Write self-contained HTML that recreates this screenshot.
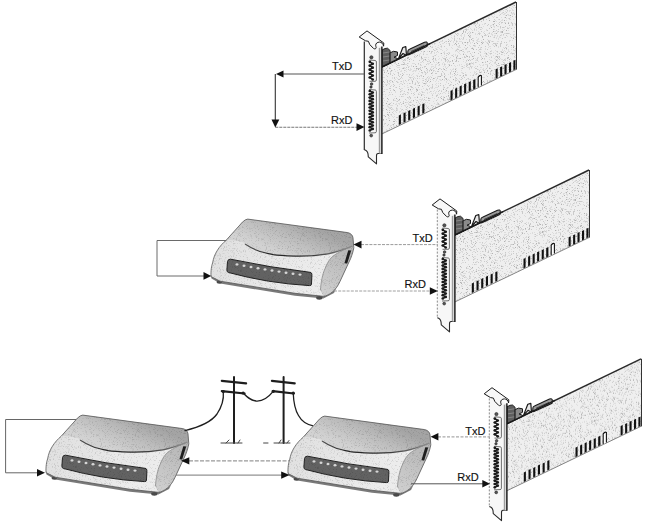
<!DOCTYPE html>
<html><head><meta charset="utf-8">
<style>
html,body{margin:0;padding:0;background:#fff;}
body{width:646px;height:527px;overflow:hidden;}
svg{display:block;}
text{font-family:"Liberation Sans",sans-serif;font-size:11px;fill:#111;stroke:#111;stroke-width:0.15px;}
</style></head>
<body>
<svg width="646" height="527" viewBox="0 0 646 527">
<defs>
<pattern id="st1" width="100" height="100" patternUnits="userSpaceOnUse"><rect width="100" height="100" fill="#efefef"/><path d="M6 0h1v1h-1zM11 0h1v1h-1zM16 0h1v1h-1zM21 0h1v1h-1zM23 0h1v1h-1zM25 0h1v1h-1zM26 0h1v1h-1zM44 0h1v1h-1zM45 0h1v1h-1zM48 0h1v1h-1zM57 0h1v1h-1zM59 0h1v1h-1zM62 0h1v1h-1zM66 0h1v1h-1zM67 0h1v1h-1zM78 0h1v1h-1zM82 0h1v1h-1zM84 0h1v1h-1zM94 0h1v1h-1zM95 0h1v1h-1zM99 0h1v1h-1zM8 1h1v1h-1zM10 1h1v1h-1zM13 1h1v1h-1zM18 1h1v1h-1zM20 1h1v1h-1zM33 1h1v1h-1zM40 1h1v1h-1zM60 1h1v1h-1zM96 1h1v1h-1zM3 2h1v1h-1zM6 2h1v1h-1zM7 2h1v1h-1zM11 2h1v1h-1zM18 2h1v1h-1zM22 2h1v1h-1zM25 2h1v1h-1zM27 2h1v1h-1zM37 2h1v1h-1zM45 2h1v1h-1zM46 2h1v1h-1zM49 2h1v1h-1zM70 2h1v1h-1zM76 2h1v1h-1zM83 2h1v1h-1zM91 2h1v1h-1zM2 3h1v1h-1zM8 3h1v1h-1zM22 3h1v1h-1zM29 3h1v1h-1zM34 3h1v1h-1zM37 3h1v1h-1zM42 3h1v1h-1zM47 3h1v1h-1zM53 3h1v1h-1zM56 3h1v1h-1zM61 3h1v1h-1zM62 3h1v1h-1zM64 3h1v1h-1zM65 3h1v1h-1zM69 3h1v1h-1zM76 3h1v1h-1zM78 3h1v1h-1zM89 3h1v1h-1zM96 3h1v1h-1zM98 3h1v1h-1zM99 3h1v1h-1zM6 4h1v1h-1zM8 4h1v1h-1zM9 4h1v1h-1zM13 4h1v1h-1zM17 4h1v1h-1zM25 4h1v1h-1zM36 4h1v1h-1zM37 4h1v1h-1zM39 4h1v1h-1zM43 4h1v1h-1zM49 4h1v1h-1zM50 4h1v1h-1zM51 4h1v1h-1zM55 4h1v1h-1zM62 4h1v1h-1zM70 4h1v1h-1zM77 4h1v1h-1zM79 4h1v1h-1zM95 4h1v1h-1zM96 4h1v1h-1zM99 4h1v1h-1zM4 5h1v1h-1zM5 5h1v1h-1zM9 5h1v1h-1zM11 5h1v1h-1zM13 5h1v1h-1zM17 5h1v1h-1zM18 5h1v1h-1zM24 5h1v1h-1zM26 5h1v1h-1zM32 5h1v1h-1zM44 5h1v1h-1zM46 5h1v1h-1zM50 5h1v1h-1zM51 5h1v1h-1zM53 5h1v1h-1zM57 5h1v1h-1zM59 5h1v1h-1zM63 5h1v1h-1zM81 5h1v1h-1zM82 5h1v1h-1zM87 5h1v1h-1zM90 5h1v1h-1zM91 5h1v1h-1zM92 5h1v1h-1zM1 6h1v1h-1zM5 6h1v1h-1zM12 6h1v1h-1zM23 6h1v1h-1zM26 6h1v1h-1zM28 6h1v1h-1zM47 6h1v1h-1zM50 6h1v1h-1zM52 6h1v1h-1zM63 6h1v1h-1zM69 6h1v1h-1zM87 6h1v1h-1zM88 6h1v1h-1zM97 6h1v1h-1zM13 7h1v1h-1zM21 7h1v1h-1zM36 7h1v1h-1zM50 7h1v1h-1zM51 7h1v1h-1zM60 7h1v1h-1zM72 7h1v1h-1zM74 7h1v1h-1zM75 7h1v1h-1zM76 7h1v1h-1zM78 7h1v1h-1zM88 7h1v1h-1zM89 7h1v1h-1zM90 7h1v1h-1zM96 7h1v1h-1zM0 8h1v1h-1zM7 8h1v1h-1zM11 8h1v1h-1zM26 8h1v1h-1zM30 8h1v1h-1zM32 8h1v1h-1zM38 8h1v1h-1zM41 8h1v1h-1zM44 8h1v1h-1zM49 8h1v1h-1zM54 8h1v1h-1zM59 8h1v1h-1zM67 8h1v1h-1zM68 8h1v1h-1zM78 8h1v1h-1zM89 8h1v1h-1zM92 8h1v1h-1zM97 8h1v1h-1zM1 9h1v1h-1zM5 9h1v1h-1zM12 9h1v1h-1zM16 9h1v1h-1zM17 9h1v1h-1zM29 9h1v1h-1zM32 9h1v1h-1zM38 9h1v1h-1zM40 9h1v1h-1zM43 9h1v1h-1zM57 9h1v1h-1zM66 9h1v1h-1zM72 9h1v1h-1zM73 9h1v1h-1zM75 9h1v1h-1zM92 9h1v1h-1zM93 9h1v1h-1zM96 9h1v1h-1zM97 9h1v1h-1zM1 10h1v1h-1zM3 10h1v1h-1zM9 10h1v1h-1zM10 10h1v1h-1zM12 10h1v1h-1zM13 10h1v1h-1zM18 10h1v1h-1zM21 10h1v1h-1zM25 10h1v1h-1zM30 10h1v1h-1zM35 10h1v1h-1zM37 10h1v1h-1zM42 10h1v1h-1zM48 10h1v1h-1zM59 10h1v1h-1zM67 10h1v1h-1zM70 10h1v1h-1zM74 10h1v1h-1zM82 10h1v1h-1zM83 10h1v1h-1zM87 10h1v1h-1zM94 10h1v1h-1zM97 10h1v1h-1zM0 11h1v1h-1zM5 11h1v1h-1zM7 11h1v1h-1zM9 11h1v1h-1zM26 11h1v1h-1zM27 11h1v1h-1zM40 11h1v1h-1zM44 11h1v1h-1zM46 11h1v1h-1zM48 11h1v1h-1zM54 11h1v1h-1zM58 11h1v1h-1zM60 11h1v1h-1zM71 11h1v1h-1zM75 11h1v1h-1zM79 11h1v1h-1zM93 11h1v1h-1zM95 11h1v1h-1zM99 11h1v1h-1zM2 12h1v1h-1zM13 12h1v1h-1zM26 12h1v1h-1zM29 12h1v1h-1zM30 12h1v1h-1zM31 12h1v1h-1zM33 12h1v1h-1zM39 12h1v1h-1zM48 12h1v1h-1zM52 12h1v1h-1zM54 12h1v1h-1zM56 12h1v1h-1zM58 12h1v1h-1zM71 12h1v1h-1zM96 12h1v1h-1zM99 12h1v1h-1zM1 13h1v1h-1zM2 13h1v1h-1zM4 13h1v1h-1zM5 13h1v1h-1zM11 13h1v1h-1zM12 13h1v1h-1zM13 13h1v1h-1zM14 13h1v1h-1zM30 13h1v1h-1zM35 13h1v1h-1zM43 13h1v1h-1zM45 13h1v1h-1zM49 13h1v1h-1zM53 13h1v1h-1zM56 13h1v1h-1zM60 13h1v1h-1zM64 13h1v1h-1zM67 13h1v1h-1zM72 13h1v1h-1zM78 13h1v1h-1zM93 13h1v1h-1zM3 14h1v1h-1zM4 14h1v1h-1zM7 14h1v1h-1zM8 14h1v1h-1zM12 14h1v1h-1zM26 14h1v1h-1zM35 14h1v1h-1zM50 14h1v1h-1zM64 14h1v1h-1zM68 14h1v1h-1zM74 14h1v1h-1zM75 14h1v1h-1zM80 14h1v1h-1zM81 14h1v1h-1zM90 14h1v1h-1zM94 14h1v1h-1zM5 15h1v1h-1zM8 15h1v1h-1zM9 15h1v1h-1zM24 15h1v1h-1zM25 15h1v1h-1zM28 15h1v1h-1zM38 15h1v1h-1zM46 15h1v1h-1zM50 15h1v1h-1zM65 15h1v1h-1zM69 15h1v1h-1zM71 15h1v1h-1zM74 15h1v1h-1zM79 15h1v1h-1zM83 15h1v1h-1zM91 15h1v1h-1zM99 15h1v1h-1zM15 16h1v1h-1zM30 16h1v1h-1zM36 16h1v1h-1zM43 16h1v1h-1zM60 16h1v1h-1zM64 16h1v1h-1zM78 16h1v1h-1zM79 16h1v1h-1zM80 16h1v1h-1zM89 16h1v1h-1zM92 16h1v1h-1zM94 16h1v1h-1zM1 17h1v1h-1zM4 17h1v1h-1zM10 17h1v1h-1zM15 17h1v1h-1zM19 17h1v1h-1zM30 17h1v1h-1zM39 17h1v1h-1zM40 17h1v1h-1zM41 17h1v1h-1zM43 17h1v1h-1zM52 17h1v1h-1zM53 17h1v1h-1zM58 17h1v1h-1zM62 17h1v1h-1zM68 17h1v1h-1zM76 17h1v1h-1zM88 17h1v1h-1zM93 17h1v1h-1zM6 18h1v1h-1zM8 18h1v1h-1zM18 18h1v1h-1zM19 18h1v1h-1zM30 18h1v1h-1zM52 18h1v1h-1zM53 18h1v1h-1zM57 18h1v1h-1zM58 18h1v1h-1zM74 18h1v1h-1zM88 18h1v1h-1zM89 18h1v1h-1zM2 19h1v1h-1zM9 19h1v1h-1zM10 19h1v1h-1zM13 19h1v1h-1zM18 19h1v1h-1zM24 19h1v1h-1zM46 19h1v1h-1zM59 19h1v1h-1zM73 19h1v1h-1zM75 19h1v1h-1zM77 19h1v1h-1zM98 19h1v1h-1zM1 20h1v1h-1zM2 20h1v1h-1zM6 20h1v1h-1zM17 20h1v1h-1zM18 20h1v1h-1zM21 20h1v1h-1zM27 20h1v1h-1zM51 20h1v1h-1zM55 20h1v1h-1zM72 20h1v1h-1zM73 20h1v1h-1zM75 20h1v1h-1zM95 20h1v1h-1zM0 21h1v1h-1zM21 21h1v1h-1zM22 21h1v1h-1zM27 21h1v1h-1zM29 21h1v1h-1zM30 21h1v1h-1zM35 21h1v1h-1zM49 21h1v1h-1zM65 21h1v1h-1zM96 21h1v1h-1zM4 22h1v1h-1zM5 22h1v1h-1zM18 22h1v1h-1zM21 22h1v1h-1zM22 22h1v1h-1zM26 22h1v1h-1zM35 22h1v1h-1zM36 22h1v1h-1zM40 22h1v1h-1zM41 22h1v1h-1zM57 22h1v1h-1zM63 22h1v1h-1zM1 23h1v1h-1zM11 23h1v1h-1zM14 23h1v1h-1zM15 23h1v1h-1zM31 23h1v1h-1zM34 23h1v1h-1zM40 23h1v1h-1zM41 23h1v1h-1zM49 23h1v1h-1zM52 23h1v1h-1zM58 23h1v1h-1zM61 23h1v1h-1zM70 23h1v1h-1zM84 23h1v1h-1zM98 23h1v1h-1zM21 24h1v1h-1zM33 24h1v1h-1zM36 24h1v1h-1zM37 24h1v1h-1zM48 24h1v1h-1zM57 24h1v1h-1zM63 24h1v1h-1zM68 24h1v1h-1zM73 24h1v1h-1zM74 24h1v1h-1zM76 24h1v1h-1zM79 24h1v1h-1zM82 24h1v1h-1zM84 24h1v1h-1zM92 24h1v1h-1zM15 25h1v1h-1zM34 25h1v1h-1zM35 25h1v1h-1zM43 25h1v1h-1zM44 25h1v1h-1zM48 25h1v1h-1zM54 25h1v1h-1zM63 25h1v1h-1zM65 25h1v1h-1zM90 25h1v1h-1zM91 25h1v1h-1zM93 25h1v1h-1zM28 26h1v1h-1zM32 26h1v1h-1zM33 26h1v1h-1zM34 26h1v1h-1zM39 26h1v1h-1zM43 26h1v1h-1zM49 26h1v1h-1zM50 26h1v1h-1zM58 26h1v1h-1zM64 26h1v1h-1zM75 26h1v1h-1zM78 26h1v1h-1zM83 26h1v1h-1zM90 26h1v1h-1zM93 26h1v1h-1zM94 26h1v1h-1zM97 26h1v1h-1zM98 26h1v1h-1zM4 27h1v1h-1zM7 27h1v1h-1zM9 27h1v1h-1zM14 27h1v1h-1zM16 27h1v1h-1zM26 27h1v1h-1zM38 27h1v1h-1zM42 27h1v1h-1zM53 27h1v1h-1zM80 27h1v1h-1zM94 27h1v1h-1zM0 28h1v1h-1zM19 28h1v1h-1zM21 28h1v1h-1zM22 28h1v1h-1zM23 28h1v1h-1zM25 28h1v1h-1zM26 28h1v1h-1zM31 28h1v1h-1zM32 28h1v1h-1zM33 28h1v1h-1zM37 28h1v1h-1zM47 28h1v1h-1zM66 28h1v1h-1zM70 28h1v1h-1zM74 28h1v1h-1zM78 28h1v1h-1zM82 28h1v1h-1zM2 29h1v1h-1zM4 29h1v1h-1zM23 29h1v1h-1zM24 29h1v1h-1zM30 29h1v1h-1zM35 29h1v1h-1zM37 29h1v1h-1zM51 29h1v1h-1zM52 29h1v1h-1zM54 29h1v1h-1zM64 29h1v1h-1zM67 29h1v1h-1zM68 29h1v1h-1zM71 29h1v1h-1zM76 29h1v1h-1zM81 29h1v1h-1zM86 29h1v1h-1zM94 29h1v1h-1zM3 30h1v1h-1zM8 30h1v1h-1zM19 30h1v1h-1zM21 30h1v1h-1zM27 30h1v1h-1zM38 30h1v1h-1zM45 30h1v1h-1zM52 30h1v1h-1zM53 30h1v1h-1zM56 30h1v1h-1zM60 30h1v1h-1zM72 30h1v1h-1zM74 30h1v1h-1zM76 30h1v1h-1zM86 30h1v1h-1zM0 31h1v1h-1zM13 31h1v1h-1zM14 31h1v1h-1zM21 31h1v1h-1zM24 31h1v1h-1zM36 31h1v1h-1zM39 31h1v1h-1zM41 31h1v1h-1zM45 31h1v1h-1zM53 31h1v1h-1zM55 31h1v1h-1zM56 31h1v1h-1zM57 31h1v1h-1zM69 31h1v1h-1zM78 31h1v1h-1zM84 31h1v1h-1zM94 31h1v1h-1zM95 31h1v1h-1zM97 31h1v1h-1zM0 32h1v1h-1zM24 32h1v1h-1zM53 32h1v1h-1zM54 32h1v1h-1zM68 32h1v1h-1zM73 32h1v1h-1zM79 32h1v1h-1zM83 32h1v1h-1zM89 32h1v1h-1zM92 32h1v1h-1zM97 32h1v1h-1zM4 33h1v1h-1zM5 33h1v1h-1zM9 33h1v1h-1zM18 33h1v1h-1zM19 33h1v1h-1zM20 33h1v1h-1zM22 33h1v1h-1zM34 33h1v1h-1zM35 33h1v1h-1zM36 33h1v1h-1zM40 33h1v1h-1zM58 33h1v1h-1zM69 33h1v1h-1zM70 33h1v1h-1zM75 33h1v1h-1zM80 33h1v1h-1zM88 33h1v1h-1zM91 33h1v1h-1zM94 33h1v1h-1zM95 33h1v1h-1zM1 34h1v1h-1zM10 34h1v1h-1zM13 34h1v1h-1zM14 34h1v1h-1zM26 34h1v1h-1zM39 34h1v1h-1zM48 34h1v1h-1zM49 34h1v1h-1zM58 34h1v1h-1zM61 34h1v1h-1zM64 34h1v1h-1zM69 34h1v1h-1zM75 34h1v1h-1zM77 34h1v1h-1zM87 34h1v1h-1zM91 34h1v1h-1zM92 34h1v1h-1zM1 35h1v1h-1zM3 35h1v1h-1zM13 35h1v1h-1zM20 35h1v1h-1zM30 35h1v1h-1zM35 35h1v1h-1zM48 35h1v1h-1zM51 35h1v1h-1zM54 35h1v1h-1zM60 35h1v1h-1zM61 35h1v1h-1zM64 35h1v1h-1zM81 35h1v1h-1zM86 35h1v1h-1zM88 35h1v1h-1zM92 35h1v1h-1zM94 35h1v1h-1zM95 35h1v1h-1zM97 35h1v1h-1zM7 36h1v1h-1zM10 36h1v1h-1zM14 36h1v1h-1zM15 36h1v1h-1zM25 36h1v1h-1zM26 36h1v1h-1zM33 36h1v1h-1zM34 36h1v1h-1zM39 36h1v1h-1zM42 36h1v1h-1zM61 36h1v1h-1zM64 36h1v1h-1zM70 36h1v1h-1zM94 36h1v1h-1zM97 36h1v1h-1zM99 36h1v1h-1zM0 37h1v1h-1zM4 37h1v1h-1zM13 37h1v1h-1zM21 37h1v1h-1zM31 37h1v1h-1zM35 37h1v1h-1zM45 37h1v1h-1zM51 37h1v1h-1zM54 37h1v1h-1zM69 37h1v1h-1zM76 37h1v1h-1zM93 37h1v1h-1zM96 37h1v1h-1zM99 37h1v1h-1zM17 38h1v1h-1zM19 38h1v1h-1zM20 38h1v1h-1zM38 38h1v1h-1zM41 38h1v1h-1zM44 38h1v1h-1zM52 38h1v1h-1zM57 38h1v1h-1zM61 38h1v1h-1zM73 38h1v1h-1zM78 38h1v1h-1zM96 38h1v1h-1zM98 38h1v1h-1zM15 39h1v1h-1zM17 39h1v1h-1zM19 39h1v1h-1zM22 39h1v1h-1zM25 39h1v1h-1zM59 39h1v1h-1zM60 39h1v1h-1zM62 39h1v1h-1zM63 39h1v1h-1zM66 39h1v1h-1zM77 39h1v1h-1zM78 39h1v1h-1zM87 39h1v1h-1zM98 39h1v1h-1zM9 40h1v1h-1zM10 40h1v1h-1zM12 40h1v1h-1zM20 40h1v1h-1zM25 40h1v1h-1zM35 40h1v1h-1zM37 40h1v1h-1zM49 40h1v1h-1zM51 40h1v1h-1zM56 40h1v1h-1zM72 40h1v1h-1zM76 40h1v1h-1zM77 40h1v1h-1zM81 40h1v1h-1zM89 40h1v1h-1zM90 40h1v1h-1zM9 41h1v1h-1zM18 41h1v1h-1zM24 41h1v1h-1zM28 41h1v1h-1zM32 41h1v1h-1zM37 41h1v1h-1zM40 41h1v1h-1zM41 41h1v1h-1zM42 41h1v1h-1zM45 41h1v1h-1zM53 41h1v1h-1zM57 41h1v1h-1zM59 41h1v1h-1zM60 41h1v1h-1zM61 41h1v1h-1zM73 41h1v1h-1zM77 41h1v1h-1zM78 41h1v1h-1zM79 41h1v1h-1zM82 41h1v1h-1zM85 41h1v1h-1zM91 41h1v1h-1zM93 41h1v1h-1zM97 41h1v1h-1zM98 41h1v1h-1zM1 42h1v1h-1zM28 42h1v1h-1zM53 42h1v1h-1zM56 42h1v1h-1zM68 42h1v1h-1zM70 42h1v1h-1zM72 42h1v1h-1zM82 42h1v1h-1zM86 42h1v1h-1zM87 42h1v1h-1zM20 43h1v1h-1zM25 43h1v1h-1zM35 43h1v1h-1zM42 43h1v1h-1zM43 43h1v1h-1zM46 43h1v1h-1zM48 43h1v1h-1zM67 43h1v1h-1zM70 43h1v1h-1zM88 43h1v1h-1zM96 43h1v1h-1zM6 44h1v1h-1zM7 44h1v1h-1zM25 44h1v1h-1zM32 44h1v1h-1zM34 44h1v1h-1zM63 44h1v1h-1zM67 44h1v1h-1zM81 44h1v1h-1zM92 44h1v1h-1zM96 44h1v1h-1zM19 45h1v1h-1zM23 45h1v1h-1zM38 45h1v1h-1zM41 45h1v1h-1zM52 45h1v1h-1zM56 45h1v1h-1zM69 45h1v1h-1zM75 45h1v1h-1zM88 45h1v1h-1zM93 45h1v1h-1zM95 45h1v1h-1zM8 46h1v1h-1zM14 46h1v1h-1zM22 46h1v1h-1zM32 46h1v1h-1zM35 46h1v1h-1zM40 46h1v1h-1zM57 46h1v1h-1zM58 46h1v1h-1zM59 46h1v1h-1zM70 46h1v1h-1zM74 46h1v1h-1zM75 46h1v1h-1zM89 46h1v1h-1zM90 46h1v1h-1zM96 46h1v1h-1zM98 46h1v1h-1zM3 47h1v1h-1zM6 47h1v1h-1zM11 47h1v1h-1zM20 47h1v1h-1zM28 47h1v1h-1zM31 47h1v1h-1zM37 47h1v1h-1zM38 47h1v1h-1zM41 47h1v1h-1zM51 47h1v1h-1zM58 47h1v1h-1zM59 47h1v1h-1zM60 47h1v1h-1zM64 47h1v1h-1zM72 47h1v1h-1zM80 47h1v1h-1zM88 47h1v1h-1zM98 47h1v1h-1zM16 48h1v1h-1zM20 48h1v1h-1zM22 48h1v1h-1zM29 48h1v1h-1zM35 48h1v1h-1zM36 48h1v1h-1zM39 48h1v1h-1zM46 48h1v1h-1zM52 48h1v1h-1zM57 48h1v1h-1zM65 48h1v1h-1zM73 48h1v1h-1zM80 48h1v1h-1zM85 48h1v1h-1zM90 48h1v1h-1zM2 49h1v1h-1zM6 49h1v1h-1zM8 49h1v1h-1zM11 49h1v1h-1zM13 49h1v1h-1zM15 49h1v1h-1zM17 49h1v1h-1zM18 49h1v1h-1zM22 49h1v1h-1zM37 49h1v1h-1zM40 49h1v1h-1zM41 49h1v1h-1zM47 49h1v1h-1zM56 49h1v1h-1zM62 49h1v1h-1zM63 49h1v1h-1zM65 49h1v1h-1zM66 49h1v1h-1zM81 49h1v1h-1zM85 49h1v1h-1zM2 50h1v1h-1zM4 50h1v1h-1zM8 50h1v1h-1zM13 50h1v1h-1zM15 50h1v1h-1zM35 50h1v1h-1zM42 50h1v1h-1zM46 50h1v1h-1zM55 50h1v1h-1zM59 50h1v1h-1zM78 50h1v1h-1zM91 50h1v1h-1zM95 50h1v1h-1zM0 51h1v1h-1zM3 51h1v1h-1zM5 51h1v1h-1zM8 51h1v1h-1zM9 51h1v1h-1zM15 51h1v1h-1zM16 51h1v1h-1zM23 51h1v1h-1zM27 51h1v1h-1zM44 51h1v1h-1zM55 51h1v1h-1zM57 51h1v1h-1zM59 51h1v1h-1zM62 51h1v1h-1zM67 51h1v1h-1zM68 51h1v1h-1zM79 51h1v1h-1zM80 51h1v1h-1zM84 51h1v1h-1zM91 51h1v1h-1zM96 51h1v1h-1zM3 52h1v1h-1zM11 52h1v1h-1zM15 52h1v1h-1zM23 52h1v1h-1zM34 52h1v1h-1zM36 52h1v1h-1zM38 52h1v1h-1zM43 52h1v1h-1zM44 52h1v1h-1zM48 52h1v1h-1zM49 52h1v1h-1zM58 52h1v1h-1zM64 52h1v1h-1zM67 52h1v1h-1zM72 52h1v1h-1zM85 52h1v1h-1zM88 52h1v1h-1zM93 52h1v1h-1zM97 52h1v1h-1zM4 53h1v1h-1zM10 53h1v1h-1zM11 53h1v1h-1zM14 53h1v1h-1zM20 53h1v1h-1zM23 53h1v1h-1zM30 53h1v1h-1zM31 53h1v1h-1zM34 53h1v1h-1zM40 53h1v1h-1zM46 53h1v1h-1zM59 53h1v1h-1zM63 53h1v1h-1zM84 53h1v1h-1zM85 53h1v1h-1zM89 53h1v1h-1zM95 53h1v1h-1zM2 54h1v1h-1zM12 54h1v1h-1zM14 54h1v1h-1zM19 54h1v1h-1zM26 54h1v1h-1zM27 54h1v1h-1zM36 54h1v1h-1zM44 54h1v1h-1zM53 54h1v1h-1zM55 54h1v1h-1zM60 54h1v1h-1zM65 54h1v1h-1zM71 54h1v1h-1zM80 54h1v1h-1zM87 54h1v1h-1zM90 54h1v1h-1zM4 55h1v1h-1zM15 55h1v1h-1zM19 55h1v1h-1zM34 55h1v1h-1zM41 55h1v1h-1zM51 55h1v1h-1zM55 55h1v1h-1zM71 55h1v1h-1zM74 55h1v1h-1zM85 55h1v1h-1zM88 55h1v1h-1zM93 55h1v1h-1zM19 56h1v1h-1zM32 56h1v1h-1zM38 56h1v1h-1zM44 56h1v1h-1zM56 56h1v1h-1zM81 56h1v1h-1zM83 56h1v1h-1zM85 56h1v1h-1zM91 56h1v1h-1zM95 56h1v1h-1zM98 56h1v1h-1zM14 57h1v1h-1zM15 57h1v1h-1zM24 57h1v1h-1zM25 57h1v1h-1zM26 57h1v1h-1zM28 57h1v1h-1zM33 57h1v1h-1zM42 57h1v1h-1zM50 57h1v1h-1zM62 57h1v1h-1zM77 57h1v1h-1zM78 57h1v1h-1zM81 57h1v1h-1zM89 57h1v1h-1zM95 57h1v1h-1zM0 58h1v1h-1zM5 58h1v1h-1zM8 58h1v1h-1zM10 58h1v1h-1zM39 58h1v1h-1zM49 58h1v1h-1zM57 58h1v1h-1zM58 58h1v1h-1zM75 58h1v1h-1zM94 58h1v1h-1zM1 59h1v1h-1zM2 59h1v1h-1zM5 59h1v1h-1zM11 59h1v1h-1zM21 59h1v1h-1zM23 59h1v1h-1zM24 59h1v1h-1zM28 59h1v1h-1zM33 59h1v1h-1zM38 59h1v1h-1zM41 59h1v1h-1zM44 59h1v1h-1zM54 59h1v1h-1zM56 59h1v1h-1zM63 59h1v1h-1zM67 59h1v1h-1zM71 59h1v1h-1zM76 59h1v1h-1zM77 59h1v1h-1zM84 59h1v1h-1zM89 59h1v1h-1zM95 59h1v1h-1zM96 59h1v1h-1zM97 59h1v1h-1zM4 60h1v1h-1zM7 60h1v1h-1zM25 60h1v1h-1zM26 60h1v1h-1zM29 60h1v1h-1zM33 60h1v1h-1zM35 60h1v1h-1zM36 60h1v1h-1zM41 60h1v1h-1zM46 60h1v1h-1zM75 60h1v1h-1zM76 60h1v1h-1zM90 60h1v1h-1zM91 60h1v1h-1zM97 60h1v1h-1zM2 61h1v1h-1zM28 61h1v1h-1zM29 61h1v1h-1zM47 61h1v1h-1zM48 61h1v1h-1zM49 61h1v1h-1zM63 61h1v1h-1zM66 61h1v1h-1zM78 61h1v1h-1zM85 61h1v1h-1zM92 61h1v1h-1zM95 61h1v1h-1zM4 62h1v1h-1zM20 62h1v1h-1zM21 62h1v1h-1zM23 62h1v1h-1zM34 62h1v1h-1zM36 62h1v1h-1zM39 62h1v1h-1zM43 62h1v1h-1zM47 62h1v1h-1zM49 62h1v1h-1zM65 62h1v1h-1zM71 62h1v1h-1zM73 62h1v1h-1zM76 62h1v1h-1zM83 62h1v1h-1zM90 62h1v1h-1zM94 62h1v1h-1zM8 63h1v1h-1zM12 63h1v1h-1zM13 63h1v1h-1zM14 63h1v1h-1zM27 63h1v1h-1zM28 63h1v1h-1zM29 63h1v1h-1zM37 63h1v1h-1zM38 63h1v1h-1zM42 63h1v1h-1zM44 63h1v1h-1zM66 63h1v1h-1zM67 63h1v1h-1zM71 63h1v1h-1zM73 63h1v1h-1zM94 63h1v1h-1zM95 63h1v1h-1zM5 64h1v1h-1zM6 64h1v1h-1zM18 64h1v1h-1zM28 64h1v1h-1zM31 64h1v1h-1zM32 64h1v1h-1zM35 64h1v1h-1zM36 64h1v1h-1zM42 64h1v1h-1zM45 64h1v1h-1zM48 64h1v1h-1zM59 64h1v1h-1zM61 64h1v1h-1zM67 64h1v1h-1zM68 64h1v1h-1zM70 64h1v1h-1zM73 64h1v1h-1zM79 64h1v1h-1zM83 64h1v1h-1zM85 64h1v1h-1zM86 64h1v1h-1zM87 64h1v1h-1zM91 64h1v1h-1zM11 65h1v1h-1zM20 65h1v1h-1zM21 65h1v1h-1zM35 65h1v1h-1zM38 65h1v1h-1zM39 65h1v1h-1zM44 65h1v1h-1zM54 65h1v1h-1zM57 65h1v1h-1zM59 65h1v1h-1zM64 65h1v1h-1zM66 65h1v1h-1zM70 65h1v1h-1zM80 65h1v1h-1zM82 65h1v1h-1zM83 65h1v1h-1zM92 65h1v1h-1zM8 66h1v1h-1zM9 66h1v1h-1zM11 66h1v1h-1zM15 66h1v1h-1zM31 66h1v1h-1zM32 66h1v1h-1zM33 66h1v1h-1zM35 66h1v1h-1zM43 66h1v1h-1zM45 66h1v1h-1zM48 66h1v1h-1zM55 66h1v1h-1zM61 66h1v1h-1zM71 66h1v1h-1zM72 66h1v1h-1zM75 66h1v1h-1zM90 66h1v1h-1zM96 66h1v1h-1zM3 67h1v1h-1zM4 67h1v1h-1zM24 67h1v1h-1zM31 67h1v1h-1zM34 67h1v1h-1zM35 67h1v1h-1zM45 67h1v1h-1zM47 67h1v1h-1zM63 67h1v1h-1zM64 67h1v1h-1zM67 67h1v1h-1zM68 67h1v1h-1zM69 67h1v1h-1zM74 67h1v1h-1zM80 67h1v1h-1zM81 67h1v1h-1zM87 67h1v1h-1zM89 67h1v1h-1zM97 67h1v1h-1zM98 67h1v1h-1zM99 67h1v1h-1zM4 68h1v1h-1zM5 68h1v1h-1zM10 68h1v1h-1zM14 68h1v1h-1zM20 68h1v1h-1zM30 68h1v1h-1zM40 68h1v1h-1zM53 68h1v1h-1zM55 68h1v1h-1zM56 68h1v1h-1zM61 68h1v1h-1zM69 68h1v1h-1zM71 68h1v1h-1zM83 68h1v1h-1zM6 69h1v1h-1zM10 69h1v1h-1zM11 69h1v1h-1zM16 69h1v1h-1zM31 69h1v1h-1zM32 69h1v1h-1zM43 69h1v1h-1zM50 69h1v1h-1zM52 69h1v1h-1zM53 69h1v1h-1zM69 69h1v1h-1zM78 69h1v1h-1zM80 69h1v1h-1zM82 69h1v1h-1zM83 69h1v1h-1zM85 69h1v1h-1zM1 70h1v1h-1zM5 70h1v1h-1zM9 70h1v1h-1zM10 70h1v1h-1zM13 70h1v1h-1zM14 70h1v1h-1zM15 70h1v1h-1zM16 70h1v1h-1zM26 70h1v1h-1zM27 70h1v1h-1zM34 70h1v1h-1zM45 70h1v1h-1zM46 70h1v1h-1zM51 70h1v1h-1zM56 70h1v1h-1zM61 70h1v1h-1zM84 70h1v1h-1zM92 70h1v1h-1zM97 70h1v1h-1zM0 71h1v1h-1zM1 71h1v1h-1zM6 71h1v1h-1zM12 71h1v1h-1zM13 71h1v1h-1zM15 71h1v1h-1zM19 71h1v1h-1zM27 71h1v1h-1zM29 71h1v1h-1zM33 71h1v1h-1zM35 71h1v1h-1zM51 71h1v1h-1zM74 71h1v1h-1zM76 71h1v1h-1zM79 71h1v1h-1zM81 71h1v1h-1zM84 71h1v1h-1zM91 71h1v1h-1zM95 71h1v1h-1zM4 72h1v1h-1zM24 72h1v1h-1zM43 72h1v1h-1zM55 72h1v1h-1zM57 72h1v1h-1zM61 72h1v1h-1zM62 72h1v1h-1zM65 72h1v1h-1zM70 72h1v1h-1zM74 72h1v1h-1zM75 72h1v1h-1zM81 72h1v1h-1zM86 72h1v1h-1zM90 72h1v1h-1zM97 72h1v1h-1zM13 73h1v1h-1zM18 73h1v1h-1zM22 73h1v1h-1zM25 73h1v1h-1zM26 73h1v1h-1zM32 73h1v1h-1zM62 73h1v1h-1zM74 73h1v1h-1zM77 73h1v1h-1zM93 73h1v1h-1zM6 74h1v1h-1zM7 74h1v1h-1zM12 74h1v1h-1zM48 74h1v1h-1zM50 74h1v1h-1zM52 74h1v1h-1zM66 74h1v1h-1zM73 74h1v1h-1zM75 74h1v1h-1zM78 74h1v1h-1zM83 74h1v1h-1zM98 74h1v1h-1zM9 75h1v1h-1zM11 75h1v1h-1zM16 75h1v1h-1zM17 75h1v1h-1zM20 75h1v1h-1zM32 75h1v1h-1zM42 75h1v1h-1zM45 75h1v1h-1zM56 75h1v1h-1zM59 75h1v1h-1zM70 75h1v1h-1zM72 75h1v1h-1zM86 75h1v1h-1zM1 76h1v1h-1zM8 76h1v1h-1zM13 76h1v1h-1zM21 76h1v1h-1zM28 76h1v1h-1zM30 76h1v1h-1zM37 76h1v1h-1zM50 76h1v1h-1zM52 76h1v1h-1zM62 76h1v1h-1zM63 76h1v1h-1zM78 76h1v1h-1zM81 76h1v1h-1zM11 77h1v1h-1zM12 77h1v1h-1zM14 77h1v1h-1zM29 77h1v1h-1zM35 77h1v1h-1zM37 77h1v1h-1zM72 77h1v1h-1zM77 77h1v1h-1zM81 77h1v1h-1zM82 77h1v1h-1zM83 77h1v1h-1zM84 77h1v1h-1zM92 77h1v1h-1zM96 77h1v1h-1zM2 78h1v1h-1zM10 78h1v1h-1zM15 78h1v1h-1zM19 78h1v1h-1zM22 78h1v1h-1zM23 78h1v1h-1zM26 78h1v1h-1zM28 78h1v1h-1zM29 78h1v1h-1zM55 78h1v1h-1zM59 78h1v1h-1zM67 78h1v1h-1zM74 78h1v1h-1zM76 78h1v1h-1zM80 78h1v1h-1zM81 78h1v1h-1zM92 78h1v1h-1zM97 78h1v1h-1zM8 79h1v1h-1zM9 79h1v1h-1zM11 79h1v1h-1zM26 79h1v1h-1zM28 79h1v1h-1zM32 79h1v1h-1zM36 79h1v1h-1zM39 79h1v1h-1zM40 79h1v1h-1zM44 79h1v1h-1zM48 79h1v1h-1zM55 79h1v1h-1zM57 79h1v1h-1zM60 79h1v1h-1zM68 79h1v1h-1zM69 79h1v1h-1zM76 79h1v1h-1zM77 79h1v1h-1zM81 79h1v1h-1zM86 79h1v1h-1zM95 79h1v1h-1zM3 80h1v1h-1zM11 80h1v1h-1zM12 80h1v1h-1zM16 80h1v1h-1zM22 80h1v1h-1zM26 80h1v1h-1zM33 80h1v1h-1zM36 80h1v1h-1zM40 80h1v1h-1zM41 80h1v1h-1zM44 80h1v1h-1zM47 80h1v1h-1zM49 80h1v1h-1zM58 80h1v1h-1zM65 80h1v1h-1zM70 80h1v1h-1zM72 80h1v1h-1zM74 80h1v1h-1zM89 80h1v1h-1zM91 80h1v1h-1zM94 80h1v1h-1zM0 81h1v1h-1zM3 81h1v1h-1zM6 81h1v1h-1zM35 81h1v1h-1zM38 81h1v1h-1zM46 81h1v1h-1zM50 81h1v1h-1zM55 81h1v1h-1zM58 81h1v1h-1zM68 81h1v1h-1zM97 81h1v1h-1zM3 82h1v1h-1zM15 82h1v1h-1zM17 82h1v1h-1zM18 82h1v1h-1zM19 82h1v1h-1zM22 82h1v1h-1zM26 82h1v1h-1zM29 82h1v1h-1zM46 82h1v1h-1zM65 82h1v1h-1zM68 82h1v1h-1zM72 82h1v1h-1zM73 82h1v1h-1zM74 82h1v1h-1zM90 82h1v1h-1zM92 82h1v1h-1zM93 82h1v1h-1zM98 82h1v1h-1zM0 83h1v1h-1zM1 83h1v1h-1zM7 83h1v1h-1zM10 83h1v1h-1zM26 83h1v1h-1zM36 83h1v1h-1zM38 83h1v1h-1zM66 83h1v1h-1zM67 83h1v1h-1zM69 83h1v1h-1zM70 83h1v1h-1zM71 83h1v1h-1zM77 83h1v1h-1zM78 83h1v1h-1zM80 83h1v1h-1zM88 83h1v1h-1zM89 83h1v1h-1zM14 84h1v1h-1zM25 84h1v1h-1zM35 84h1v1h-1zM45 84h1v1h-1zM51 84h1v1h-1zM58 84h1v1h-1zM81 84h1v1h-1zM83 84h1v1h-1zM85 84h1v1h-1zM86 84h1v1h-1zM87 84h1v1h-1zM89 84h1v1h-1zM99 84h1v1h-1zM7 85h1v1h-1zM17 85h1v1h-1zM18 85h1v1h-1zM24 85h1v1h-1zM29 85h1v1h-1zM32 85h1v1h-1zM36 85h1v1h-1zM38 85h1v1h-1zM50 85h1v1h-1zM60 85h1v1h-1zM70 85h1v1h-1zM79 85h1v1h-1zM91 85h1v1h-1zM4 86h1v1h-1zM43 86h1v1h-1zM67 86h1v1h-1zM79 86h1v1h-1zM7 87h1v1h-1zM8 87h1v1h-1zM15 87h1v1h-1zM30 87h1v1h-1zM31 87h1v1h-1zM35 87h1v1h-1zM36 87h1v1h-1zM37 87h1v1h-1zM43 87h1v1h-1zM48 87h1v1h-1zM55 87h1v1h-1zM62 87h1v1h-1zM67 87h1v1h-1zM75 87h1v1h-1zM95 87h1v1h-1zM1 88h1v1h-1zM2 88h1v1h-1zM13 88h1v1h-1zM16 88h1v1h-1zM23 88h1v1h-1zM26 88h1v1h-1zM31 88h1v1h-1zM32 88h1v1h-1zM34 88h1v1h-1zM43 88h1v1h-1zM46 88h1v1h-1zM47 88h1v1h-1zM55 88h1v1h-1zM58 88h1v1h-1zM71 88h1v1h-1zM75 88h1v1h-1zM79 88h1v1h-1zM12 89h1v1h-1zM19 89h1v1h-1zM21 89h1v1h-1zM29 89h1v1h-1zM37 89h1v1h-1zM45 89h1v1h-1zM55 89h1v1h-1zM68 89h1v1h-1zM72 89h1v1h-1zM76 89h1v1h-1zM84 89h1v1h-1zM86 89h1v1h-1zM87 89h1v1h-1zM1 90h1v1h-1zM2 90h1v1h-1zM8 90h1v1h-1zM10 90h1v1h-1zM16 90h1v1h-1zM25 90h1v1h-1zM27 90h1v1h-1zM34 90h1v1h-1zM41 90h1v1h-1zM50 90h1v1h-1zM57 90h1v1h-1zM61 90h1v1h-1zM74 90h1v1h-1zM93 90h1v1h-1zM1 91h1v1h-1zM11 91h1v1h-1zM21 91h1v1h-1zM22 91h1v1h-1zM31 91h1v1h-1zM33 91h1v1h-1zM36 91h1v1h-1zM45 91h1v1h-1zM46 91h1v1h-1zM60 91h1v1h-1zM73 91h1v1h-1zM81 91h1v1h-1zM83 91h1v1h-1zM95 91h1v1h-1zM0 92h1v1h-1zM8 92h1v1h-1zM14 92h1v1h-1zM19 92h1v1h-1zM23 92h1v1h-1zM24 92h1v1h-1zM27 92h1v1h-1zM29 92h1v1h-1zM35 92h1v1h-1zM43 92h1v1h-1zM44 92h1v1h-1zM48 92h1v1h-1zM51 92h1v1h-1zM53 92h1v1h-1zM56 92h1v1h-1zM64 92h1v1h-1zM70 92h1v1h-1zM74 92h1v1h-1zM79 92h1v1h-1zM91 92h1v1h-1zM95 92h1v1h-1zM3 93h1v1h-1zM4 93h1v1h-1zM8 93h1v1h-1zM18 93h1v1h-1zM20 93h1v1h-1zM27 93h1v1h-1zM31 93h1v1h-1zM33 93h1v1h-1zM35 93h1v1h-1zM38 93h1v1h-1zM42 93h1v1h-1zM45 93h1v1h-1zM56 93h1v1h-1zM57 93h1v1h-1zM63 93h1v1h-1zM67 93h1v1h-1zM72 93h1v1h-1zM81 93h1v1h-1zM3 94h1v1h-1zM7 94h1v1h-1zM19 94h1v1h-1zM22 94h1v1h-1zM23 94h1v1h-1zM32 94h1v1h-1zM37 94h1v1h-1zM39 94h1v1h-1zM54 94h1v1h-1zM56 94h1v1h-1zM60 94h1v1h-1zM78 94h1v1h-1zM81 94h1v1h-1zM82 94h1v1h-1zM83 94h1v1h-1zM85 94h1v1h-1zM89 94h1v1h-1zM90 94h1v1h-1zM13 95h1v1h-1zM24 95h1v1h-1zM52 95h1v1h-1zM77 95h1v1h-1zM80 95h1v1h-1zM88 95h1v1h-1zM2 96h1v1h-1zM3 96h1v1h-1zM17 96h1v1h-1zM43 96h1v1h-1zM57 96h1v1h-1zM66 96h1v1h-1zM67 96h1v1h-1zM73 96h1v1h-1zM74 96h1v1h-1zM81 96h1v1h-1zM85 96h1v1h-1zM95 96h1v1h-1zM99 96h1v1h-1zM8 97h1v1h-1zM9 97h1v1h-1zM14 97h1v1h-1zM15 97h1v1h-1zM20 97h1v1h-1zM28 97h1v1h-1zM32 97h1v1h-1zM43 97h1v1h-1zM56 97h1v1h-1zM58 97h1v1h-1zM62 97h1v1h-1zM69 97h1v1h-1zM79 97h1v1h-1zM80 97h1v1h-1zM8 98h1v1h-1zM22 98h1v1h-1zM30 98h1v1h-1zM34 98h1v1h-1zM43 98h1v1h-1zM47 98h1v1h-1zM94 98h1v1h-1zM9 99h1v1h-1zM15 99h1v1h-1zM19 99h1v1h-1zM20 99h1v1h-1zM21 99h1v1h-1zM22 99h1v1h-1zM37 99h1v1h-1zM42 99h1v1h-1zM51 99h1v1h-1zM53 99h1v1h-1zM65 99h1v1h-1zM72 99h1v1h-1zM76 99h1v1h-1zM97 99h1v1h-1z" fill="#dcdcdc"/><path d="M17 0h1v1h-1zM28 0h1v1h-1zM29 0h1v1h-1zM36 0h1v1h-1zM43 0h1v1h-1zM68 0h1v1h-1zM70 0h1v1h-1zM93 0h1v1h-1zM98 0h1v1h-1zM3 1h1v1h-1zM80 1h1v1h-1zM87 1h1v1h-1zM97 1h1v1h-1zM0 2h1v1h-1zM5 2h1v1h-1zM9 2h1v1h-1zM10 2h1v1h-1zM16 2h1v1h-1zM54 2h1v1h-1zM19 3h1v1h-1zM38 3h1v1h-1zM49 3h1v1h-1zM59 3h1v1h-1zM90 3h1v1h-1zM93 3h1v1h-1zM1 4h1v1h-1zM12 4h1v1h-1zM20 4h1v1h-1zM38 4h1v1h-1zM58 4h1v1h-1zM60 4h1v1h-1zM75 4h1v1h-1zM76 4h1v1h-1zM78 4h1v1h-1zM88 4h1v1h-1zM20 5h1v1h-1zM31 5h1v1h-1zM43 5h1v1h-1zM60 5h1v1h-1zM83 5h1v1h-1zM97 5h1v1h-1zM7 6h1v1h-1zM33 6h1v1h-1zM35 6h1v1h-1zM51 6h1v1h-1zM55 6h1v1h-1zM66 6h1v1h-1zM6 7h1v1h-1zM9 7h1v1h-1zM15 7h1v1h-1zM27 7h1v1h-1zM32 7h1v1h-1zM35 7h1v1h-1zM49 7h1v1h-1zM54 7h1v1h-1zM55 7h1v1h-1zM68 7h1v1h-1zM73 7h1v1h-1zM91 7h1v1h-1zM28 8h1v1h-1zM50 8h1v1h-1zM83 8h1v1h-1zM90 8h1v1h-1zM96 8h1v1h-1zM2 9h1v1h-1zM6 9h1v1h-1zM55 9h1v1h-1zM70 9h1v1h-1zM91 9h1v1h-1zM7 10h1v1h-1zM31 10h1v1h-1zM34 10h1v1h-1zM41 10h1v1h-1zM89 10h1v1h-1zM96 10h1v1h-1zM17 11h1v1h-1zM41 11h1v1h-1zM47 11h1v1h-1zM52 11h1v1h-1zM3 12h1v1h-1zM6 12h1v1h-1zM11 12h1v1h-1zM51 12h1v1h-1zM57 12h1v1h-1zM63 12h1v1h-1zM67 12h1v1h-1zM87 12h1v1h-1zM92 12h1v1h-1zM23 13h1v1h-1zM27 13h1v1h-1zM32 13h1v1h-1zM69 13h1v1h-1zM79 13h1v1h-1zM0 14h1v1h-1zM14 14h1v1h-1zM22 14h1v1h-1zM40 14h1v1h-1zM62 14h1v1h-1zM69 14h1v1h-1zM72 14h1v1h-1zM76 14h1v1h-1zM88 14h1v1h-1zM91 14h1v1h-1zM27 15h1v1h-1zM30 15h1v1h-1zM31 15h1v1h-1zM36 15h1v1h-1zM47 15h1v1h-1zM68 15h1v1h-1zM76 15h1v1h-1zM84 15h1v1h-1zM12 16h1v1h-1zM17 16h1v1h-1zM65 16h1v1h-1zM31 17h1v1h-1zM46 17h1v1h-1zM49 17h1v1h-1zM66 17h1v1h-1zM67 17h1v1h-1zM70 17h1v1h-1zM96 17h1v1h-1zM97 17h1v1h-1zM9 18h1v1h-1zM16 18h1v1h-1zM17 18h1v1h-1zM27 18h1v1h-1zM32 18h1v1h-1zM50 18h1v1h-1zM65 18h1v1h-1zM67 18h1v1h-1zM20 19h1v1h-1zM29 19h1v1h-1zM34 19h1v1h-1zM47 19h1v1h-1zM63 19h1v1h-1zM78 19h1v1h-1zM86 19h1v1h-1zM94 19h1v1h-1zM99 19h1v1h-1zM35 20h1v1h-1zM38 20h1v1h-1zM39 20h1v1h-1zM46 20h1v1h-1zM47 20h1v1h-1zM62 20h1v1h-1zM64 20h1v1h-1zM67 20h1v1h-1zM83 20h1v1h-1zM32 21h1v1h-1zM33 21h1v1h-1zM50 21h1v1h-1zM53 21h1v1h-1zM63 21h1v1h-1zM73 21h1v1h-1zM76 21h1v1h-1zM81 21h1v1h-1zM1 22h1v1h-1zM2 22h1v1h-1zM8 22h1v1h-1zM11 22h1v1h-1zM45 22h1v1h-1zM74 22h1v1h-1zM77 22h1v1h-1zM99 22h1v1h-1zM12 23h1v1h-1zM39 23h1v1h-1zM53 23h1v1h-1zM60 23h1v1h-1zM75 23h1v1h-1zM77 23h1v1h-1zM85 23h1v1h-1zM94 23h1v1h-1zM12 24h1v1h-1zM15 24h1v1h-1zM17 24h1v1h-1zM22 24h1v1h-1zM27 24h1v1h-1zM70 24h1v1h-1zM71 24h1v1h-1zM88 24h1v1h-1zM99 24h1v1h-1zM9 25h1v1h-1zM12 25h1v1h-1zM31 25h1v1h-1zM42 25h1v1h-1zM46 25h1v1h-1zM50 25h1v1h-1zM51 25h1v1h-1zM75 25h1v1h-1zM79 25h1v1h-1zM87 25h1v1h-1zM0 26h1v1h-1zM5 26h1v1h-1zM17 26h1v1h-1zM69 26h1v1h-1zM0 27h1v1h-1zM2 27h1v1h-1zM3 27h1v1h-1zM23 27h1v1h-1zM32 27h1v1h-1zM34 27h1v1h-1zM36 27h1v1h-1zM41 27h1v1h-1zM45 27h1v1h-1zM62 27h1v1h-1zM65 27h1v1h-1zM68 27h1v1h-1zM76 27h1v1h-1zM79 27h1v1h-1zM81 27h1v1h-1zM7 28h1v1h-1zM8 28h1v1h-1zM11 28h1v1h-1zM30 28h1v1h-1zM40 28h1v1h-1zM45 28h1v1h-1zM59 28h1v1h-1zM62 28h1v1h-1zM89 28h1v1h-1zM56 29h1v1h-1zM61 29h1v1h-1zM65 29h1v1h-1zM66 29h1v1h-1zM74 29h1v1h-1zM80 29h1v1h-1zM93 29h1v1h-1zM98 29h1v1h-1zM24 30h1v1h-1zM63 30h1v1h-1zM66 30h1v1h-1zM87 30h1v1h-1zM96 30h1v1h-1zM1 31h1v1h-1zM30 31h1v1h-1zM50 31h1v1h-1zM54 31h1v1h-1zM65 31h1v1h-1zM81 31h1v1h-1zM98 31h1v1h-1zM1 32h1v1h-1zM19 32h1v1h-1zM23 32h1v1h-1zM26 32h1v1h-1zM31 32h1v1h-1zM38 32h1v1h-1zM52 32h1v1h-1zM63 32h1v1h-1zM65 32h1v1h-1zM70 32h1v1h-1zM6 33h1v1h-1zM7 33h1v1h-1zM8 33h1v1h-1zM33 33h1v1h-1zM39 33h1v1h-1zM51 33h1v1h-1zM55 33h1v1h-1zM57 33h1v1h-1zM67 33h1v1h-1zM78 33h1v1h-1zM79 33h1v1h-1zM84 33h1v1h-1zM89 33h1v1h-1zM3 34h1v1h-1zM41 34h1v1h-1zM47 34h1v1h-1zM50 34h1v1h-1zM56 34h1v1h-1zM79 34h1v1h-1zM85 34h1v1h-1zM0 35h1v1h-1zM6 35h1v1h-1zM16 35h1v1h-1zM39 35h1v1h-1zM57 35h1v1h-1zM70 35h1v1h-1zM84 35h1v1h-1zM85 35h1v1h-1zM28 36h1v1h-1zM38 36h1v1h-1zM45 36h1v1h-1zM54 36h1v1h-1zM90 36h1v1h-1zM5 37h1v1h-1zM11 37h1v1h-1zM15 37h1v1h-1zM29 37h1v1h-1zM40 37h1v1h-1zM63 37h1v1h-1zM70 37h1v1h-1zM82 37h1v1h-1zM94 37h1v1h-1zM2 38h1v1h-1zM30 38h1v1h-1zM36 38h1v1h-1zM39 38h1v1h-1zM54 38h1v1h-1zM59 38h1v1h-1zM63 38h1v1h-1zM72 38h1v1h-1zM32 39h1v1h-1zM37 39h1v1h-1zM39 39h1v1h-1zM48 39h1v1h-1zM54 39h1v1h-1zM69 39h1v1h-1zM17 40h1v1h-1zM19 40h1v1h-1zM42 40h1v1h-1zM54 40h1v1h-1zM69 40h1v1h-1zM73 40h1v1h-1zM88 40h1v1h-1zM1 41h1v1h-1zM17 41h1v1h-1zM46 41h1v1h-1zM50 41h1v1h-1zM56 41h1v1h-1zM69 41h1v1h-1zM88 41h1v1h-1zM89 41h1v1h-1zM92 41h1v1h-1zM4 42h1v1h-1zM6 42h1v1h-1zM17 42h1v1h-1zM18 42h1v1h-1zM21 42h1v1h-1zM39 42h1v1h-1zM44 42h1v1h-1zM62 42h1v1h-1zM64 42h1v1h-1zM76 42h1v1h-1zM83 42h1v1h-1zM0 43h1v1h-1zM1 43h1v1h-1zM16 43h1v1h-1zM30 43h1v1h-1zM34 43h1v1h-1zM49 43h1v1h-1zM58 43h1v1h-1zM62 43h1v1h-1zM87 43h1v1h-1zM93 43h1v1h-1zM94 43h1v1h-1zM95 43h1v1h-1zM97 43h1v1h-1zM0 44h1v1h-1zM23 44h1v1h-1zM40 44h1v1h-1zM49 44h1v1h-1zM54 44h1v1h-1zM88 44h1v1h-1zM95 44h1v1h-1zM0 45h1v1h-1zM6 45h1v1h-1zM13 45h1v1h-1zM49 45h1v1h-1zM59 45h1v1h-1zM73 45h1v1h-1zM74 45h1v1h-1zM79 45h1v1h-1zM0 46h1v1h-1zM13 46h1v1h-1zM18 46h1v1h-1zM25 46h1v1h-1zM41 46h1v1h-1zM44 46h1v1h-1zM85 46h1v1h-1zM94 46h1v1h-1zM5 47h1v1h-1zM16 47h1v1h-1zM23 47h1v1h-1zM32 47h1v1h-1zM67 47h1v1h-1zM78 47h1v1h-1zM81 47h1v1h-1zM4 48h1v1h-1zM15 48h1v1h-1zM23 48h1v1h-1zM66 48h1v1h-1zM71 48h1v1h-1zM33 49h1v1h-1zM36 49h1v1h-1zM57 49h1v1h-1zM58 49h1v1h-1zM76 49h1v1h-1zM79 49h1v1h-1zM80 49h1v1h-1zM87 49h1v1h-1zM14 50h1v1h-1zM20 50h1v1h-1zM34 50h1v1h-1zM56 50h1v1h-1zM60 50h1v1h-1zM1 51h1v1h-1zM18 51h1v1h-1zM21 51h1v1h-1zM31 51h1v1h-1zM32 51h1v1h-1zM37 51h1v1h-1zM63 51h1v1h-1zM69 51h1v1h-1zM90 51h1v1h-1zM97 51h1v1h-1zM1 52h1v1h-1zM7 52h1v1h-1zM31 52h1v1h-1zM80 52h1v1h-1zM6 53h1v1h-1zM12 53h1v1h-1zM13 53h1v1h-1zM44 53h1v1h-1zM47 53h1v1h-1zM49 53h1v1h-1zM70 53h1v1h-1zM78 53h1v1h-1zM90 53h1v1h-1zM91 53h1v1h-1zM99 53h1v1h-1zM1 54h1v1h-1zM23 54h1v1h-1zM48 54h1v1h-1zM86 54h1v1h-1zM97 54h1v1h-1zM8 55h1v1h-1zM35 55h1v1h-1zM46 55h1v1h-1zM52 55h1v1h-1zM57 55h1v1h-1zM66 55h1v1h-1zM80 55h1v1h-1zM14 56h1v1h-1zM16 56h1v1h-1zM21 56h1v1h-1zM33 56h1v1h-1zM53 56h1v1h-1zM57 56h1v1h-1zM64 56h1v1h-1zM66 56h1v1h-1zM69 56h1v1h-1zM73 56h1v1h-1zM86 56h1v1h-1zM97 56h1v1h-1zM99 56h1v1h-1zM7 57h1v1h-1zM46 57h1v1h-1zM64 57h1v1h-1zM65 57h1v1h-1zM69 57h1v1h-1zM91 57h1v1h-1zM99 57h1v1h-1zM21 58h1v1h-1zM22 58h1v1h-1zM35 58h1v1h-1zM43 58h1v1h-1zM44 58h1v1h-1zM45 58h1v1h-1zM56 58h1v1h-1zM59 58h1v1h-1zM77 58h1v1h-1zM84 58h1v1h-1zM98 58h1v1h-1zM4 59h1v1h-1zM32 59h1v1h-1zM35 59h1v1h-1zM47 59h1v1h-1zM69 59h1v1h-1zM72 59h1v1h-1zM81 59h1v1h-1zM99 59h1v1h-1zM3 60h1v1h-1zM5 60h1v1h-1zM13 60h1v1h-1zM19 60h1v1h-1zM23 60h1v1h-1zM45 60h1v1h-1zM48 60h1v1h-1zM66 60h1v1h-1zM70 60h1v1h-1zM77 60h1v1h-1zM9 61h1v1h-1zM22 61h1v1h-1zM27 61h1v1h-1zM33 61h1v1h-1zM45 61h1v1h-1zM50 61h1v1h-1zM52 61h1v1h-1zM55 61h1v1h-1zM56 61h1v1h-1zM58 61h1v1h-1zM3 62h1v1h-1zM75 62h1v1h-1zM85 62h1v1h-1zM95 62h1v1h-1zM4 63h1v1h-1zM7 63h1v1h-1zM18 63h1v1h-1zM70 63h1v1h-1zM72 63h1v1h-1zM89 63h1v1h-1zM1 64h1v1h-1zM2 64h1v1h-1zM4 64h1v1h-1zM15 64h1v1h-1zM20 64h1v1h-1zM26 64h1v1h-1zM39 64h1v1h-1zM44 64h1v1h-1zM49 64h1v1h-1zM66 64h1v1h-1zM96 64h1v1h-1zM7 65h1v1h-1zM51 65h1v1h-1zM67 65h1v1h-1zM87 65h1v1h-1zM97 65h1v1h-1zM98 65h1v1h-1zM99 65h1v1h-1zM24 66h1v1h-1zM25 66h1v1h-1zM62 66h1v1h-1zM66 66h1v1h-1zM70 66h1v1h-1zM77 66h1v1h-1zM87 66h1v1h-1zM6 67h1v1h-1zM8 67h1v1h-1zM20 67h1v1h-1zM22 67h1v1h-1zM71 67h1v1h-1zM2 68h1v1h-1zM17 68h1v1h-1zM18 68h1v1h-1zM19 68h1v1h-1zM33 68h1v1h-1zM36 68h1v1h-1zM39 68h1v1h-1zM43 68h1v1h-1zM46 68h1v1h-1zM62 68h1v1h-1zM75 68h1v1h-1zM76 68h1v1h-1zM86 68h1v1h-1zM90 68h1v1h-1zM8 69h1v1h-1zM20 69h1v1h-1zM27 69h1v1h-1zM30 69h1v1h-1zM41 69h1v1h-1zM77 69h1v1h-1zM94 69h1v1h-1zM99 69h1v1h-1zM4 70h1v1h-1zM29 70h1v1h-1zM33 70h1v1h-1zM79 70h1v1h-1zM83 70h1v1h-1zM24 71h1v1h-1zM37 71h1v1h-1zM38 71h1v1h-1zM42 71h1v1h-1zM53 71h1v1h-1zM87 71h1v1h-1zM90 71h1v1h-1zM21 72h1v1h-1zM22 72h1v1h-1zM25 72h1v1h-1zM27 72h1v1h-1zM32 72h1v1h-1zM50 72h1v1h-1zM79 72h1v1h-1zM98 72h1v1h-1zM2 73h1v1h-1zM35 73h1v1h-1zM36 73h1v1h-1zM41 73h1v1h-1zM44 73h1v1h-1zM50 73h1v1h-1zM63 73h1v1h-1zM76 73h1v1h-1zM90 73h1v1h-1zM98 73h1v1h-1zM0 74h1v1h-1zM3 74h1v1h-1zM9 74h1v1h-1zM25 74h1v1h-1zM41 74h1v1h-1zM44 74h1v1h-1zM55 74h1v1h-1zM57 74h1v1h-1zM65 74h1v1h-1zM76 74h1v1h-1zM90 74h1v1h-1zM94 74h1v1h-1zM21 75h1v1h-1zM41 75h1v1h-1zM54 75h1v1h-1zM60 75h1v1h-1zM65 75h1v1h-1zM66 75h1v1h-1zM73 75h1v1h-1zM92 75h1v1h-1zM98 75h1v1h-1zM17 76h1v1h-1zM19 76h1v1h-1zM38 76h1v1h-1zM39 76h1v1h-1zM87 76h1v1h-1zM99 76h1v1h-1zM1 77h1v1h-1zM9 77h1v1h-1zM10 77h1v1h-1zM27 77h1v1h-1zM31 77h1v1h-1zM44 77h1v1h-1zM50 77h1v1h-1zM55 77h1v1h-1zM61 77h1v1h-1zM64 77h1v1h-1zM94 77h1v1h-1zM0 78h1v1h-1zM13 78h1v1h-1zM17 78h1v1h-1zM34 78h1v1h-1zM37 78h1v1h-1zM45 78h1v1h-1zM46 78h1v1h-1zM56 78h1v1h-1zM62 78h1v1h-1zM68 78h1v1h-1zM79 78h1v1h-1zM94 78h1v1h-1zM13 79h1v1h-1zM25 79h1v1h-1zM30 79h1v1h-1zM61 79h1v1h-1zM66 79h1v1h-1zM70 79h1v1h-1zM78 79h1v1h-1zM98 79h1v1h-1zM99 79h1v1h-1zM5 80h1v1h-1zM8 80h1v1h-1zM23 80h1v1h-1zM28 80h1v1h-1zM55 80h1v1h-1zM56 80h1v1h-1zM87 80h1v1h-1zM90 80h1v1h-1zM1 81h1v1h-1zM17 81h1v1h-1zM25 81h1v1h-1zM87 81h1v1h-1zM89 81h1v1h-1zM96 81h1v1h-1zM12 82h1v1h-1zM51 82h1v1h-1zM80 82h1v1h-1zM82 82h1v1h-1zM84 82h1v1h-1zM87 82h1v1h-1zM97 82h1v1h-1zM4 83h1v1h-1zM9 83h1v1h-1zM12 83h1v1h-1zM15 83h1v1h-1zM18 83h1v1h-1zM23 83h1v1h-1zM25 83h1v1h-1zM40 83h1v1h-1zM48 83h1v1h-1zM57 83h1v1h-1zM62 83h1v1h-1zM2 84h1v1h-1zM15 84h1v1h-1zM32 84h1v1h-1zM50 84h1v1h-1zM55 84h1v1h-1zM64 84h1v1h-1zM70 84h1v1h-1zM77 84h1v1h-1zM93 84h1v1h-1zM27 85h1v1h-1zM40 85h1v1h-1zM43 85h1v1h-1zM49 85h1v1h-1zM61 85h1v1h-1zM66 85h1v1h-1zM77 85h1v1h-1zM86 85h1v1h-1zM94 85h1v1h-1zM10 86h1v1h-1zM11 86h1v1h-1zM22 86h1v1h-1zM28 86h1v1h-1zM32 86h1v1h-1zM38 86h1v1h-1zM63 86h1v1h-1zM69 86h1v1h-1zM72 86h1v1h-1zM75 86h1v1h-1zM81 86h1v1h-1zM83 86h1v1h-1zM90 86h1v1h-1zM93 86h1v1h-1zM99 86h1v1h-1zM11 87h1v1h-1zM12 87h1v1h-1zM18 87h1v1h-1zM32 87h1v1h-1zM44 87h1v1h-1zM47 87h1v1h-1zM53 87h1v1h-1zM96 87h1v1h-1zM29 88h1v1h-1zM53 88h1v1h-1zM82 88h1v1h-1zM89 88h1v1h-1zM90 88h1v1h-1zM99 88h1v1h-1zM0 89h1v1h-1zM17 89h1v1h-1zM26 89h1v1h-1zM27 89h1v1h-1zM52 89h1v1h-1zM60 89h1v1h-1zM69 89h1v1h-1zM70 89h1v1h-1zM73 89h1v1h-1zM78 89h1v1h-1zM93 89h1v1h-1zM39 90h1v1h-1zM58 90h1v1h-1zM71 90h1v1h-1zM90 90h1v1h-1zM0 91h1v1h-1zM4 91h1v1h-1zM16 91h1v1h-1zM30 91h1v1h-1zM38 91h1v1h-1zM41 91h1v1h-1zM48 91h1v1h-1zM63 91h1v1h-1zM64 91h1v1h-1zM67 91h1v1h-1zM84 91h1v1h-1zM7 92h1v1h-1zM22 92h1v1h-1zM68 92h1v1h-1zM82 92h1v1h-1zM89 92h1v1h-1zM11 93h1v1h-1zM13 93h1v1h-1zM40 93h1v1h-1zM48 93h1v1h-1zM53 93h1v1h-1zM68 93h1v1h-1zM0 94h1v1h-1zM2 94h1v1h-1zM5 94h1v1h-1zM14 94h1v1h-1zM18 94h1v1h-1zM21 94h1v1h-1zM63 94h1v1h-1zM75 94h1v1h-1zM92 94h1v1h-1zM32 95h1v1h-1zM36 95h1v1h-1zM37 95h1v1h-1zM66 95h1v1h-1zM68 95h1v1h-1zM74 95h1v1h-1zM81 95h1v1h-1zM1 96h1v1h-1zM9 96h1v1h-1zM36 96h1v1h-1zM41 96h1v1h-1zM46 96h1v1h-1zM48 96h1v1h-1zM50 96h1v1h-1zM56 96h1v1h-1zM79 96h1v1h-1zM7 97h1v1h-1zM10 97h1v1h-1zM24 97h1v1h-1zM26 97h1v1h-1zM38 97h1v1h-1zM40 97h1v1h-1zM49 97h1v1h-1zM81 97h1v1h-1zM10 98h1v1h-1zM29 98h1v1h-1zM49 98h1v1h-1zM51 98h1v1h-1zM74 98h1v1h-1zM83 98h1v1h-1zM5 99h1v1h-1zM24 99h1v1h-1zM47 99h1v1h-1zM48 99h1v1h-1zM50 99h1v1h-1zM64 99h1v1h-1zM68 99h1v1h-1zM69 99h1v1h-1zM81 99h1v1h-1zM88 99h1v1h-1zM93 99h1v1h-1z" fill="#cacaca"/><path d="M13 0h1v1h-1zM62 1h1v1h-1zM61 2h1v1h-1zM81 2h1v1h-1zM3 3h1v1h-1zM86 3h1v1h-1zM56 4h1v1h-1zM89 4h1v1h-1zM10 5h1v1h-1zM14 5h1v1h-1zM52 5h1v1h-1zM56 5h1v1h-1zM39 6h1v1h-1zM41 6h1v1h-1zM45 8h1v1h-1zM24 9h1v1h-1zM86 9h1v1h-1zM23 10h1v1h-1zM60 10h1v1h-1zM36 11h1v1h-1zM56 11h1v1h-1zM89 12h1v1h-1zM58 13h1v1h-1zM44 14h1v1h-1zM53 14h1v1h-1zM79 14h1v1h-1zM87 14h1v1h-1zM6 15h1v1h-1zM10 15h1v1h-1zM88 15h1v1h-1zM70 16h1v1h-1zM76 16h1v1h-1zM85 16h1v1h-1zM5 17h1v1h-1zM28 17h1v1h-1zM56 18h1v1h-1zM83 19h1v1h-1zM4 20h1v1h-1zM65 20h1v1h-1zM71 20h1v1h-1zM77 20h1v1h-1zM89 20h1v1h-1zM26 21h1v1h-1zM28 21h1v1h-1zM54 21h1v1h-1zM93 21h1v1h-1zM94 21h1v1h-1zM71 22h1v1h-1zM5 23h1v1h-1zM8 23h1v1h-1zM74 23h1v1h-1zM93 24h1v1h-1zM96 25h1v1h-1zM21 26h1v1h-1zM44 26h1v1h-1zM91 27h1v1h-1zM28 28h1v1h-1zM36 28h1v1h-1zM61 28h1v1h-1zM49 29h1v1h-1zM58 29h1v1h-1zM6 30h1v1h-1zM34 30h1v1h-1zM2 31h1v1h-1zM23 31h1v1h-1zM46 31h1v1h-1zM63 31h1v1h-1zM93 31h1v1h-1zM2 32h1v1h-1zM47 32h1v1h-1zM72 32h1v1h-1zM62 33h1v1h-1zM96 33h1v1h-1zM68 35h1v1h-1zM22 36h1v1h-1zM37 36h1v1h-1zM69 36h1v1h-1zM82 36h1v1h-1zM88 36h1v1h-1zM25 37h1v1h-1zM13 38h1v1h-1zM71 39h1v1h-1zM83 39h1v1h-1zM33 40h1v1h-1zM19 41h1v1h-1zM48 41h1v1h-1zM30 42h1v1h-1zM65 42h1v1h-1zM67 42h1v1h-1zM81 42h1v1h-1zM89 42h1v1h-1zM21 43h1v1h-1zM55 43h1v1h-1zM74 43h1v1h-1zM77 43h1v1h-1zM82 43h1v1h-1zM56 44h1v1h-1zM11 45h1v1h-1zM65 45h1v1h-1zM96 45h1v1h-1zM17 46h1v1h-1zM30 46h1v1h-1zM13 47h1v1h-1zM6 48h1v1h-1zM72 48h1v1h-1zM73 49h1v1h-1zM61 50h1v1h-1zM24 51h1v1h-1zM29 51h1v1h-1zM2 52h1v1h-1zM74 52h1v1h-1zM41 53h1v1h-1zM86 53h1v1h-1zM63 54h1v1h-1zM17 55h1v1h-1zM67 56h1v1h-1zM72 56h1v1h-1zM96 56h1v1h-1zM8 57h1v1h-1zM21 57h1v1h-1zM56 57h1v1h-1zM97 57h1v1h-1zM7 58h1v1h-1zM33 58h1v1h-1zM60 58h1v1h-1zM73 58h1v1h-1zM82 58h1v1h-1zM9 59h1v1h-1zM25 59h1v1h-1zM45 59h1v1h-1zM52 60h1v1h-1zM56 60h1v1h-1zM68 60h1v1h-1zM96 60h1v1h-1zM87 61h1v1h-1zM30 62h1v1h-1zM38 62h1v1h-1zM82 62h1v1h-1zM53 63h1v1h-1zM69 63h1v1h-1zM98 63h1v1h-1zM3 64h1v1h-1zM69 64h1v1h-1zM49 65h1v1h-1zM13 66h1v1h-1zM16 66h1v1h-1zM3 68h1v1h-1zM16 68h1v1h-1zM26 68h1v1h-1zM89 68h1v1h-1zM18 69h1v1h-1zM38 69h1v1h-1zM44 69h1v1h-1zM55 69h1v1h-1zM21 70h1v1h-1zM31 70h1v1h-1zM87 70h1v1h-1zM91 70h1v1h-1zM55 71h1v1h-1zM80 72h1v1h-1zM84 72h1v1h-1zM31 73h1v1h-1zM54 73h1v1h-1zM88 73h1v1h-1zM2 75h1v1h-1zM63 75h1v1h-1zM23 76h1v1h-1zM40 76h1v1h-1zM44 76h1v1h-1zM33 78h1v1h-1zM42 79h1v1h-1zM46 79h1v1h-1zM53 79h1v1h-1zM80 80h1v1h-1zM12 81h1v1h-1zM27 81h1v1h-1zM30 81h1v1h-1zM59 81h1v1h-1zM78 81h1v1h-1zM83 81h1v1h-1zM92 81h1v1h-1zM59 82h1v1h-1zM24 83h1v1h-1zM19 85h1v1h-1zM53 85h1v1h-1zM56 87h1v1h-1zM73 87h1v1h-1zM8 89h1v1h-1zM10 89h1v1h-1zM16 89h1v1h-1zM43 89h1v1h-1zM71 89h1v1h-1zM17 90h1v1h-1zM46 90h1v1h-1zM94 90h1v1h-1zM74 91h1v1h-1zM81 92h1v1h-1zM52 94h1v1h-1zM64 94h1v1h-1zM67 94h1v1h-1zM79 94h1v1h-1zM21 95h1v1h-1zM48 95h1v1h-1zM59 95h1v1h-1zM65 96h1v1h-1zM70 96h1v1h-1zM71 96h1v1h-1zM72 96h1v1h-1zM17 97h1v1h-1zM44 97h1v1h-1zM28 98h1v1h-1zM41 98h1v1h-1zM87 98h1v1h-1zM96 98h1v1h-1zM43 99h1v1h-1zM49 99h1v1h-1zM71 99h1v1h-1zM79 99h1v1h-1zM99 99h1v1h-1z" fill="#b2b2b2"/></pattern>
<linearGradient id="gtop" gradientUnits="userSpaceOnUse" x1="300" y1="222" x2="285" y2="256"><stop offset="0" stop-color="#a4a4a4"/><stop offset="0.5" stop-color="#bdbdbd"/><stop offset="1" stop-color="#d2d2d2"/></linearGradient>
<linearGradient id="gside" gradientUnits="userSpaceOnUse" x1="352" y1="250" x2="325" y2="292"><stop offset="0" stop-color="#b6b6b6"/><stop offset="1" stop-color="#cecece"/></linearGradient>
<linearGradient id="gfront" gradientUnits="userSpaceOnUse" x1="215" y1="245" x2="300" y2="292"><stop offset="0" stop-color="#e0e0e0"/><stop offset="1" stop-color="#ececec"/></linearGradient>
<linearGradient id="ggroove" gradientUnits="userSpaceOnUse" x1="245" y1="0" x2="352" y2="0"><stop offset="0" stop-color="#555"/><stop offset="0.25" stop-color="#222"/><stop offset="0.6" stop-color="#333"/><stop offset="1" stop-color="#8a8a8a"/></linearGradient>
<pattern id="dots" width="64" height="64" patternUnits="userSpaceOnUse"><path d="M10 0h1v1h-1zM13 0h1v1h-1zM17 0h1v1h-1zM22 0h1v1h-1zM25 0h1v1h-1zM37 0h1v1h-1zM60 0h1v1h-1zM61 0h1v1h-1zM15 1h1v1h-1zM16 1h1v1h-1zM34 1h1v1h-1zM39 1h1v1h-1zM44 1h1v1h-1zM54 1h1v1h-1zM3 2h1v1h-1zM6 2h1v1h-1zM16 2h1v1h-1zM17 2h1v1h-1zM18 2h1v1h-1zM33 2h1v1h-1zM38 2h1v1h-1zM40 2h1v1h-1zM47 2h1v1h-1zM55 2h1v1h-1zM0 3h1v1h-1zM6 3h1v1h-1zM7 3h1v1h-1zM8 3h1v1h-1zM13 3h1v1h-1zM20 3h1v1h-1zM32 3h1v1h-1zM51 3h1v1h-1zM57 3h1v1h-1zM62 3h1v1h-1zM26 4h1v1h-1zM30 4h1v1h-1zM32 4h1v1h-1zM36 4h1v1h-1zM38 4h1v1h-1zM47 4h1v1h-1zM56 4h1v1h-1zM58 4h1v1h-1zM63 4h1v1h-1zM11 5h1v1h-1zM12 5h1v1h-1zM17 5h1v1h-1zM18 5h1v1h-1zM23 5h1v1h-1zM30 5h1v1h-1zM33 5h1v1h-1zM55 5h1v1h-1zM8 6h1v1h-1zM15 6h1v1h-1zM18 6h1v1h-1zM21 6h1v1h-1zM40 6h1v1h-1zM49 6h1v1h-1zM59 6h1v1h-1zM14 7h1v1h-1zM33 7h1v1h-1zM39 7h1v1h-1zM56 7h1v1h-1zM62 7h1v1h-1zM5 8h1v1h-1zM11 8h1v1h-1zM13 8h1v1h-1zM19 8h1v1h-1zM22 8h1v1h-1zM28 8h1v1h-1zM34 8h1v1h-1zM41 8h1v1h-1zM52 8h1v1h-1zM54 8h1v1h-1zM60 8h1v1h-1zM16 9h1v1h-1zM6 10h1v1h-1zM7 10h1v1h-1zM10 10h1v1h-1zM12 10h1v1h-1zM20 10h1v1h-1zM38 10h1v1h-1zM43 10h1v1h-1zM53 10h1v1h-1zM5 11h1v1h-1zM16 11h1v1h-1zM25 11h1v1h-1zM30 11h1v1h-1zM44 11h1v1h-1zM52 11h1v1h-1zM54 11h1v1h-1zM55 11h1v1h-1zM13 12h1v1h-1zM24 12h1v1h-1zM42 12h1v1h-1zM54 12h1v1h-1zM59 12h1v1h-1zM8 13h1v1h-1zM18 13h1v1h-1zM31 13h1v1h-1zM33 13h1v1h-1zM39 13h1v1h-1zM49 13h1v1h-1zM58 13h1v1h-1zM16 14h1v1h-1zM51 14h1v1h-1zM58 14h1v1h-1zM8 15h1v1h-1zM21 15h1v1h-1zM28 15h1v1h-1zM61 15h1v1h-1zM29 16h1v1h-1zM44 16h1v1h-1zM52 16h1v1h-1zM56 16h1v1h-1zM9 17h1v1h-1zM18 17h1v1h-1zM28 17h1v1h-1zM30 17h1v1h-1zM32 17h1v1h-1zM36 17h1v1h-1zM40 17h1v1h-1zM44 17h1v1h-1zM45 17h1v1h-1zM46 17h1v1h-1zM2 18h1v1h-1zM18 18h1v1h-1zM24 18h1v1h-1zM42 18h1v1h-1zM50 18h1v1h-1zM61 18h1v1h-1zM3 19h1v1h-1zM28 19h1v1h-1zM32 19h1v1h-1zM33 19h1v1h-1zM36 19h1v1h-1zM38 19h1v1h-1zM55 19h1v1h-1zM9 20h1v1h-1zM26 20h1v1h-1zM42 20h1v1h-1zM43 20h1v1h-1zM48 20h1v1h-1zM50 20h1v1h-1zM52 20h1v1h-1zM57 20h1v1h-1zM58 20h1v1h-1zM61 20h1v1h-1zM13 21h1v1h-1zM17 21h1v1h-1zM34 21h1v1h-1zM38 21h1v1h-1zM41 21h1v1h-1zM44 21h1v1h-1zM47 21h1v1h-1zM54 21h1v1h-1zM14 22h1v1h-1zM19 22h1v1h-1zM28 22h1v1h-1zM29 22h1v1h-1zM31 22h1v1h-1zM49 22h1v1h-1zM51 22h1v1h-1zM53 22h1v1h-1zM56 22h1v1h-1zM1 23h1v1h-1zM4 23h1v1h-1zM9 23h1v1h-1zM11 23h1v1h-1zM12 23h1v1h-1zM13 23h1v1h-1zM15 23h1v1h-1zM27 23h1v1h-1zM28 23h1v1h-1zM30 23h1v1h-1zM56 23h1v1h-1zM59 23h1v1h-1zM2 24h1v1h-1zM9 24h1v1h-1zM10 24h1v1h-1zM26 24h1v1h-1zM28 24h1v1h-1zM60 24h1v1h-1zM5 25h1v1h-1zM8 25h1v1h-1zM20 25h1v1h-1zM30 25h1v1h-1zM58 25h1v1h-1zM2 26h1v1h-1zM4 26h1v1h-1zM11 26h1v1h-1zM14 26h1v1h-1zM19 26h1v1h-1zM28 26h1v1h-1zM6 27h1v1h-1zM19 27h1v1h-1zM40 27h1v1h-1zM43 27h1v1h-1zM44 27h1v1h-1zM55 27h1v1h-1zM57 27h1v1h-1zM61 27h1v1h-1zM3 28h1v1h-1zM4 28h1v1h-1zM8 28h1v1h-1zM13 28h1v1h-1zM14 28h1v1h-1zM17 28h1v1h-1zM21 28h1v1h-1zM47 28h1v1h-1zM50 28h1v1h-1zM3 29h1v1h-1zM6 29h1v1h-1zM9 29h1v1h-1zM25 29h1v1h-1zM26 29h1v1h-1zM29 29h1v1h-1zM32 29h1v1h-1zM38 29h1v1h-1zM42 29h1v1h-1zM51 29h1v1h-1zM58 29h1v1h-1zM59 29h1v1h-1zM60 29h1v1h-1zM62 29h1v1h-1zM18 30h1v1h-1zM25 30h1v1h-1zM29 30h1v1h-1zM31 30h1v1h-1zM39 30h1v1h-1zM43 30h1v1h-1zM48 30h1v1h-1zM52 30h1v1h-1zM55 30h1v1h-1zM56 30h1v1h-1zM60 30h1v1h-1zM1 31h1v1h-1zM11 31h1v1h-1zM19 31h1v1h-1zM27 31h1v1h-1zM35 31h1v1h-1zM37 31h1v1h-1zM7 32h1v1h-1zM18 32h1v1h-1zM34 32h1v1h-1zM41 32h1v1h-1zM52 32h1v1h-1zM54 32h1v1h-1zM62 32h1v1h-1zM1 33h1v1h-1zM12 33h1v1h-1zM26 33h1v1h-1zM46 33h1v1h-1zM62 33h1v1h-1zM63 33h1v1h-1zM14 34h1v1h-1zM25 34h1v1h-1zM26 34h1v1h-1zM44 34h1v1h-1zM45 34h1v1h-1zM62 34h1v1h-1zM1 35h1v1h-1zM6 35h1v1h-1zM13 35h1v1h-1zM14 35h1v1h-1zM18 35h1v1h-1zM28 35h1v1h-1zM30 35h1v1h-1zM46 35h1v1h-1zM57 35h1v1h-1zM61 35h1v1h-1zM62 35h1v1h-1zM3 36h1v1h-1zM6 36h1v1h-1zM38 36h1v1h-1zM48 36h1v1h-1zM52 36h1v1h-1zM58 36h1v1h-1zM60 36h1v1h-1zM5 37h1v1h-1zM8 37h1v1h-1zM10 37h1v1h-1zM17 37h1v1h-1zM34 37h1v1h-1zM35 37h1v1h-1zM47 37h1v1h-1zM54 37h1v1h-1zM57 37h1v1h-1zM58 37h1v1h-1zM5 38h1v1h-1zM7 38h1v1h-1zM10 38h1v1h-1zM39 38h1v1h-1zM4 39h1v1h-1zM12 39h1v1h-1zM14 39h1v1h-1zM31 39h1v1h-1zM45 39h1v1h-1zM48 39h1v1h-1zM49 39h1v1h-1zM52 39h1v1h-1zM57 39h1v1h-1zM5 40h1v1h-1zM8 40h1v1h-1zM18 40h1v1h-1zM42 40h1v1h-1zM43 40h1v1h-1zM46 40h1v1h-1zM47 40h1v1h-1zM53 40h1v1h-1zM3 41h1v1h-1zM7 41h1v1h-1zM18 41h1v1h-1zM23 41h1v1h-1zM32 41h1v1h-1zM35 41h1v1h-1zM44 41h1v1h-1zM45 41h1v1h-1zM46 41h1v1h-1zM29 42h1v1h-1zM33 42h1v1h-1zM0 43h1v1h-1zM11 43h1v1h-1zM25 43h1v1h-1zM30 43h1v1h-1zM35 43h1v1h-1zM45 43h1v1h-1zM46 43h1v1h-1zM48 43h1v1h-1zM55 43h1v1h-1zM56 43h1v1h-1zM58 43h1v1h-1zM63 43h1v1h-1zM1 44h1v1h-1zM15 44h1v1h-1zM25 44h1v1h-1zM29 44h1v1h-1zM49 44h1v1h-1zM58 44h1v1h-1zM63 44h1v1h-1zM8 45h1v1h-1zM17 45h1v1h-1zM25 45h1v1h-1zM37 45h1v1h-1zM44 45h1v1h-1zM52 45h1v1h-1zM56 45h1v1h-1zM59 45h1v1h-1zM3 46h1v1h-1zM6 46h1v1h-1zM7 46h1v1h-1zM13 46h1v1h-1zM16 46h1v1h-1zM18 46h1v1h-1zM25 46h1v1h-1zM42 46h1v1h-1zM54 46h1v1h-1zM57 46h1v1h-1zM59 46h1v1h-1zM60 46h1v1h-1zM2 47h1v1h-1zM17 47h1v1h-1zM43 47h1v1h-1zM47 47h1v1h-1zM52 47h1v1h-1zM54 47h1v1h-1zM5 48h1v1h-1zM8 48h1v1h-1zM12 48h1v1h-1zM14 48h1v1h-1zM28 48h1v1h-1zM35 48h1v1h-1zM57 48h1v1h-1zM16 49h1v1h-1zM19 49h1v1h-1zM28 49h1v1h-1zM29 49h1v1h-1zM30 49h1v1h-1zM35 49h1v1h-1zM37 49h1v1h-1zM39 49h1v1h-1zM48 49h1v1h-1zM52 49h1v1h-1zM9 50h1v1h-1zM23 50h1v1h-1zM27 50h1v1h-1zM34 50h1v1h-1zM39 50h1v1h-1zM60 50h1v1h-1zM2 51h1v1h-1zM11 51h1v1h-1zM12 51h1v1h-1zM14 51h1v1h-1zM15 51h1v1h-1zM20 51h1v1h-1zM43 51h1v1h-1zM47 51h1v1h-1zM62 51h1v1h-1zM0 52h1v1h-1zM9 52h1v1h-1zM11 52h1v1h-1zM22 52h1v1h-1zM25 52h1v1h-1zM41 52h1v1h-1zM49 52h1v1h-1zM50 52h1v1h-1zM59 52h1v1h-1zM63 52h1v1h-1zM24 53h1v1h-1zM31 53h1v1h-1zM37 53h1v1h-1zM41 53h1v1h-1zM43 53h1v1h-1zM49 53h1v1h-1zM1 54h1v1h-1zM10 54h1v1h-1zM12 54h1v1h-1zM20 54h1v1h-1zM21 54h1v1h-1zM23 54h1v1h-1zM29 54h1v1h-1zM38 54h1v1h-1zM44 54h1v1h-1zM54 54h1v1h-1zM61 54h1v1h-1zM0 55h1v1h-1zM3 55h1v1h-1zM21 55h1v1h-1zM48 55h1v1h-1zM54 55h1v1h-1zM59 55h1v1h-1zM0 56h1v1h-1zM2 56h1v1h-1zM4 56h1v1h-1zM21 56h1v1h-1zM43 56h1v1h-1zM56 56h1v1h-1zM58 56h1v1h-1zM0 57h1v1h-1zM9 57h1v1h-1zM19 57h1v1h-1zM31 57h1v1h-1zM34 57h1v1h-1zM35 57h1v1h-1zM42 57h1v1h-1zM44 57h1v1h-1zM45 57h1v1h-1zM52 57h1v1h-1zM4 58h1v1h-1zM13 58h1v1h-1zM19 58h1v1h-1zM22 58h1v1h-1zM32 58h1v1h-1zM34 58h1v1h-1zM38 58h1v1h-1zM40 58h1v1h-1zM59 58h1v1h-1zM60 58h1v1h-1zM30 59h1v1h-1zM38 59h1v1h-1zM47 59h1v1h-1zM48 59h1v1h-1zM49 59h1v1h-1zM57 59h1v1h-1zM60 59h1v1h-1zM16 60h1v1h-1zM35 60h1v1h-1zM39 60h1v1h-1zM40 60h1v1h-1zM41 60h1v1h-1zM42 60h1v1h-1zM48 60h1v1h-1zM53 60h1v1h-1zM1 61h1v1h-1zM3 61h1v1h-1zM4 61h1v1h-1zM13 61h1v1h-1zM14 61h1v1h-1zM30 61h1v1h-1zM32 61h1v1h-1zM36 61h1v1h-1zM41 61h1v1h-1zM59 61h1v1h-1zM9 62h1v1h-1zM24 62h1v1h-1zM27 62h1v1h-1zM41 62h1v1h-1zM42 62h1v1h-1zM52 62h1v1h-1zM53 62h1v1h-1zM61 62h1v1h-1zM1 63h1v1h-1zM5 63h1v1h-1zM6 63h1v1h-1zM8 63h1v1h-1zM12 63h1v1h-1zM18 63h1v1h-1zM27 63h1v1h-1zM33 63h1v1h-1zM47 63h1v1h-1zM54 63h1v1h-1z" fill="#000" fill-opacity="0.04"/><path d="M0 0h1v1h-1zM28 0h1v1h-1zM30 0h1v1h-1zM36 0h1v1h-1zM48 0h1v1h-1zM8 1h1v1h-1zM9 1h1v1h-1zM33 1h1v1h-1zM43 1h1v1h-1zM15 2h1v1h-1zM20 2h1v1h-1zM23 2h1v1h-1zM28 2h1v1h-1zM29 2h1v1h-1zM42 2h1v1h-1zM55 3h1v1h-1zM10 4h1v1h-1zM12 4h1v1h-1zM21 4h1v1h-1zM24 4h1v1h-1zM43 4h1v1h-1zM48 4h1v1h-1zM62 4h1v1h-1zM15 5h1v1h-1zM22 5h1v1h-1zM37 5h1v1h-1zM40 5h1v1h-1zM61 5h1v1h-1zM10 6h1v1h-1zM14 6h1v1h-1zM26 6h1v1h-1zM54 6h1v1h-1zM11 7h1v1h-1zM17 7h1v1h-1zM31 7h1v1h-1zM32 7h1v1h-1zM36 7h1v1h-1zM0 8h1v1h-1zM6 8h1v1h-1zM7 8h1v1h-1zM39 8h1v1h-1zM46 8h1v1h-1zM58 8h1v1h-1zM8 9h1v1h-1zM12 9h1v1h-1zM35 9h1v1h-1zM46 9h1v1h-1zM3 10h1v1h-1zM5 10h1v1h-1zM30 10h1v1h-1zM40 10h1v1h-1zM45 10h1v1h-1zM51 10h1v1h-1zM11 11h1v1h-1zM20 11h1v1h-1zM22 11h1v1h-1zM27 11h1v1h-1zM40 11h1v1h-1zM46 11h1v1h-1zM45 12h1v1h-1zM63 12h1v1h-1zM4 13h1v1h-1zM14 13h1v1h-1zM19 13h1v1h-1zM20 13h1v1h-1zM30 13h1v1h-1zM9 14h1v1h-1zM28 14h1v1h-1zM39 14h1v1h-1zM49 14h1v1h-1zM10 15h1v1h-1zM25 15h1v1h-1zM27 15h1v1h-1zM49 15h1v1h-1zM54 15h1v1h-1zM59 15h1v1h-1zM8 16h1v1h-1zM16 16h1v1h-1zM28 16h1v1h-1zM33 16h1v1h-1zM41 16h1v1h-1zM60 16h1v1h-1zM34 17h1v1h-1zM50 17h1v1h-1zM53 17h1v1h-1zM3 18h1v1h-1zM14 18h1v1h-1zM33 18h1v1h-1zM44 18h1v1h-1zM46 18h1v1h-1zM53 18h1v1h-1zM12 19h1v1h-1zM43 19h1v1h-1zM54 19h1v1h-1zM62 19h1v1h-1zM2 20h1v1h-1zM22 20h1v1h-1zM28 20h1v1h-1zM36 20h1v1h-1zM59 20h1v1h-1zM7 21h1v1h-1zM27 21h1v1h-1zM46 21h1v1h-1zM16 22h1v1h-1zM33 22h1v1h-1zM52 22h1v1h-1zM61 22h1v1h-1zM0 23h1v1h-1zM5 23h1v1h-1zM22 23h1v1h-1zM37 23h1v1h-1zM41 23h1v1h-1zM47 23h1v1h-1zM58 23h1v1h-1zM3 24h1v1h-1zM6 24h1v1h-1zM7 24h1v1h-1zM11 24h1v1h-1zM15 24h1v1h-1zM21 24h1v1h-1zM34 24h1v1h-1zM38 24h1v1h-1zM43 24h1v1h-1zM55 24h1v1h-1zM58 24h1v1h-1zM11 25h1v1h-1zM45 25h1v1h-1zM49 25h1v1h-1zM52 25h1v1h-1zM3 26h1v1h-1zM12 26h1v1h-1zM17 26h1v1h-1zM18 26h1v1h-1zM29 26h1v1h-1zM35 26h1v1h-1zM39 26h1v1h-1zM47 26h1v1h-1zM50 26h1v1h-1zM61 26h1v1h-1zM5 27h1v1h-1zM24 27h1v1h-1zM25 27h1v1h-1zM37 27h1v1h-1zM54 27h1v1h-1zM31 28h1v1h-1zM49 28h1v1h-1zM14 29h1v1h-1zM27 29h1v1h-1zM31 29h1v1h-1zM48 29h1v1h-1zM49 29h1v1h-1zM10 30h1v1h-1zM15 30h1v1h-1zM20 30h1v1h-1zM28 30h1v1h-1zM32 30h1v1h-1zM50 30h1v1h-1zM59 30h1v1h-1zM63 30h1v1h-1zM10 31h1v1h-1zM16 31h1v1h-1zM9 32h1v1h-1zM4 33h1v1h-1zM5 33h1v1h-1zM13 33h1v1h-1zM15 33h1v1h-1zM21 33h1v1h-1zM55 33h1v1h-1zM27 34h1v1h-1zM29 34h1v1h-1zM33 34h1v1h-1zM50 34h1v1h-1zM37 35h1v1h-1zM47 35h1v1h-1zM51 35h1v1h-1zM16 36h1v1h-1zM47 36h1v1h-1zM57 36h1v1h-1zM59 36h1v1h-1zM63 36h1v1h-1zM12 37h1v1h-1zM16 38h1v1h-1zM25 38h1v1h-1zM40 38h1v1h-1zM50 38h1v1h-1zM60 38h1v1h-1zM58 39h1v1h-1zM63 39h1v1h-1zM0 40h1v1h-1zM7 40h1v1h-1zM10 40h1v1h-1zM23 40h1v1h-1zM30 40h1v1h-1zM54 40h1v1h-1zM14 41h1v1h-1zM17 41h1v1h-1zM63 41h1v1h-1zM8 42h1v1h-1zM19 42h1v1h-1zM48 42h1v1h-1zM58 42h1v1h-1zM12 43h1v1h-1zM21 43h1v1h-1zM33 43h1v1h-1zM37 43h1v1h-1zM42 43h1v1h-1zM50 43h1v1h-1zM59 43h1v1h-1zM0 44h1v1h-1zM13 44h1v1h-1zM22 44h1v1h-1zM33 44h1v1h-1zM36 44h1v1h-1zM45 44h1v1h-1zM48 44h1v1h-1zM59 44h1v1h-1zM14 45h1v1h-1zM28 45h1v1h-1zM38 45h1v1h-1zM5 46h1v1h-1zM20 46h1v1h-1zM34 46h1v1h-1zM53 46h1v1h-1zM5 47h1v1h-1zM7 47h1v1h-1zM0 48h1v1h-1zM44 48h1v1h-1zM46 48h1v1h-1zM47 48h1v1h-1zM51 48h1v1h-1zM59 48h1v1h-1zM14 49h1v1h-1zM24 49h1v1h-1zM38 49h1v1h-1zM47 49h1v1h-1zM63 49h1v1h-1zM8 50h1v1h-1zM11 50h1v1h-1zM25 50h1v1h-1zM18 51h1v1h-1zM26 51h1v1h-1zM45 51h1v1h-1zM52 51h1v1h-1zM55 51h1v1h-1zM61 51h1v1h-1zM17 52h1v1h-1zM28 52h1v1h-1zM6 53h1v1h-1zM8 53h1v1h-1zM9 53h1v1h-1zM60 53h1v1h-1zM0 54h1v1h-1zM13 54h1v1h-1zM18 54h1v1h-1zM34 54h1v1h-1zM34 55h1v1h-1zM29 56h1v1h-1zM37 56h1v1h-1zM40 56h1v1h-1zM41 56h1v1h-1zM45 56h1v1h-1zM10 57h1v1h-1zM14 57h1v1h-1zM25 57h1v1h-1zM56 57h1v1h-1zM58 57h1v1h-1zM12 58h1v1h-1zM16 58h1v1h-1zM31 58h1v1h-1zM33 58h1v1h-1zM39 58h1v1h-1zM41 58h1v1h-1zM47 58h1v1h-1zM53 58h1v1h-1zM63 58h1v1h-1zM4 59h1v1h-1zM17 59h1v1h-1zM21 59h1v1h-1zM40 59h1v1h-1zM49 60h1v1h-1zM59 60h1v1h-1zM63 60h1v1h-1zM5 61h1v1h-1zM7 61h1v1h-1zM18 61h1v1h-1zM24 61h1v1h-1zM27 61h1v1h-1zM31 61h1v1h-1zM42 61h1v1h-1zM62 61h1v1h-1zM1 62h1v1h-1zM28 62h1v1h-1zM13 63h1v1h-1zM16 63h1v1h-1zM22 63h1v1h-1zM25 63h1v1h-1zM26 63h1v1h-1zM28 63h1v1h-1zM38 63h1v1h-1zM41 63h1v1h-1zM62 63h1v1h-1z" fill="#000" fill-opacity="0.07"/><path d="M4 0h1v1h-1zM9 0h1v1h-1zM15 0h1v1h-1zM16 0h1v1h-1zM39 0h1v1h-1zM41 0h1v1h-1zM51 0h1v1h-1zM4 1h1v1h-1zM55 1h1v1h-1zM27 2h1v1h-1zM19 3h1v1h-1zM27 3h1v1h-1zM1 4h1v1h-1zM51 4h1v1h-1zM32 5h1v1h-1zM45 5h1v1h-1zM1 6h1v1h-1zM20 6h1v1h-1zM55 6h1v1h-1zM22 7h1v1h-1zM23 7h1v1h-1zM26 7h1v1h-1zM54 7h1v1h-1zM59 7h1v1h-1zM4 8h1v1h-1zM10 8h1v1h-1zM16 8h1v1h-1zM23 8h1v1h-1zM63 8h1v1h-1zM15 9h1v1h-1zM17 9h1v1h-1zM21 9h1v1h-1zM42 10h1v1h-1zM57 10h1v1h-1zM43 11h1v1h-1zM56 11h1v1h-1zM27 12h1v1h-1zM34 12h1v1h-1zM62 12h1v1h-1zM2 13h1v1h-1zM28 13h1v1h-1zM25 14h1v1h-1zM31 14h1v1h-1zM46 14h1v1h-1zM48 14h1v1h-1zM48 15h1v1h-1zM0 16h1v1h-1zM3 16h1v1h-1zM14 16h1v1h-1zM37 17h1v1h-1zM19 19h1v1h-1zM29 19h1v1h-1zM44 19h1v1h-1zM63 19h1v1h-1zM17 20h1v1h-1zM56 20h1v1h-1zM16 21h1v1h-1zM31 21h1v1h-1zM52 21h1v1h-1zM60 21h1v1h-1zM12 22h1v1h-1zM23 22h1v1h-1zM18 23h1v1h-1zM55 23h1v1h-1zM30 24h1v1h-1zM2 25h1v1h-1zM9 25h1v1h-1zM25 25h1v1h-1zM42 25h1v1h-1zM4 27h1v1h-1zM9 27h1v1h-1zM16 27h1v1h-1zM18 27h1v1h-1zM49 27h1v1h-1zM52 27h1v1h-1zM63 27h1v1h-1zM19 28h1v1h-1zM5 29h1v1h-1zM34 30h1v1h-1zM36 30h1v1h-1zM61 30h1v1h-1zM13 31h1v1h-1zM14 31h1v1h-1zM18 31h1v1h-1zM29 31h1v1h-1zM19 32h1v1h-1zM1 34h1v1h-1zM54 34h1v1h-1zM16 35h1v1h-1zM17 35h1v1h-1zM41 35h1v1h-1zM50 35h1v1h-1zM42 36h1v1h-1zM43 36h1v1h-1zM55 36h1v1h-1zM2 37h1v1h-1zM14 37h1v1h-1zM46 37h1v1h-1zM20 38h1v1h-1zM37 38h1v1h-1zM19 39h1v1h-1zM35 40h1v1h-1zM41 40h1v1h-1zM50 40h1v1h-1zM27 41h1v1h-1zM47 41h1v1h-1zM62 41h1v1h-1zM2 42h1v1h-1zM11 42h1v1h-1zM26 42h1v1h-1zM32 42h1v1h-1zM34 42h1v1h-1zM46 42h1v1h-1zM16 43h1v1h-1zM24 43h1v1h-1zM47 43h1v1h-1zM26 44h1v1h-1zM0 45h1v1h-1zM29 45h1v1h-1zM30 45h1v1h-1zM2 46h1v1h-1zM36 46h1v1h-1zM41 46h1v1h-1zM44 46h1v1h-1zM51 46h1v1h-1zM6 47h1v1h-1zM14 47h1v1h-1zM44 47h1v1h-1zM2 48h1v1h-1zM23 49h1v1h-1zM33 49h1v1h-1zM41 49h1v1h-1zM9 51h1v1h-1zM34 51h1v1h-1zM41 51h1v1h-1zM42 51h1v1h-1zM22 53h1v1h-1zM36 53h1v1h-1zM56 53h1v1h-1zM26 54h1v1h-1zM32 54h1v1h-1zM10 55h1v1h-1zM32 55h1v1h-1zM10 56h1v1h-1zM22 56h1v1h-1zM23 56h1v1h-1zM26 56h1v1h-1zM31 56h1v1h-1zM42 56h1v1h-1zM57 56h1v1h-1zM18 57h1v1h-1zM9 58h1v1h-1zM14 58h1v1h-1zM36 58h1v1h-1zM44 58h1v1h-1zM51 58h1v1h-1zM11 59h1v1h-1zM45 59h1v1h-1zM51 59h1v1h-1zM53 59h1v1h-1zM46 61h1v1h-1zM23 63h1v1h-1zM44 63h1v1h-1z" fill="#000" fill-opacity="0.11"/></pattern>
<g id="card">
  <!-- board -->
  <path d="M382 66.8 L516.5 2 L516.5 69.3 L382.2 133.8 Z" fill="url(#st1)"/>
  <path d="M516.5 69.3 L382.2 133.8" stroke="#666" stroke-width="0.8" fill="none"/>
  <path d="M382 66.8 L516 2" stroke="#2a2a2a" stroke-width="1.4" fill="none"/><path d="M516.5 2 L516.5 69.5" stroke="#333" stroke-width="1" fill="none"/>
  <!-- components -->
  <path d="M382 50 L385 48.5 L387.5 48.2 L390.1 50.5 L390.1 63.2 L382 67 Z" fill="#5e5e5e" stroke="#1a1a1a" stroke-width="0.9"/>
  <path d="M383 53 L389.5 52 M383 57 L389.5 56 M383 61 L389.5 60" stroke="#9a9a9a" stroke-width="0.7"/>
  <path d="M390.1 52.8 L393.5 51.3 L397.5 52 L397.5 55.5 L394 57.2 L397.5 58.5 L397.5 59.5 L390.1 63.2 Z" fill="#8a8a8a" stroke="#1a1a1a" stroke-width="1"/>
  <path d="M398.5 58.6 L402.8 47.5 L405.8 46.6 L406.5 55.5 L403 53.5 Z" fill="#e8e8e8" stroke="#1a1a1a" stroke-width="1.2" stroke-linejoin="round"/>
  <path d="M409.5 49.2 L424.5 42.3 Q427.3 41.3 427.3 43.5 L427 46.5 L409.5 54.5 Q407.6 55.2 407.8 53 L407.9 51 Q408 49.8 409.5 49.2 Z" fill="#9a9a9a" stroke="#1a1a1a" stroke-width="1.1"/><path d="M411 51.5 L424 45.6" stroke="#333" stroke-width="0.9"/>
  <path d="M382 67 L430 43.6" stroke="#1a1a1a" stroke-width="1.4" fill="none"/>
  <!-- fingers -->
  <g fill="#111"><path d="M398.8 125.1L400.9 124.1L400.9 114.6L398.8 115.6ZM403.5 122.8L405.6 121.8L405.6 112.3L403.5 113.3ZM408.2 120.6L410.3 119.6L410.3 110.1L408.2 111.1ZM412.9 118.3L415.0 117.3L415.0 107.8L412.9 108.8ZM417.6 116.1L419.7 115.1L419.7 105.6L417.6 106.6ZM422.3 113.8L424.4 112.8L424.4 103.3L422.3 104.3ZM450.5 100.4L452.6 99.3L452.6 89.8L450.5 90.9ZM455.1 98.2L457.2 97.2L457.2 87.7L455.1 88.7ZM459.6 96.0L461.7 95.0L461.7 85.5L459.6 86.5ZM464.1 93.8L466.2 92.8L466.2 83.3L464.1 84.3ZM468.7 91.7L470.8 90.6L470.8 81.1L468.7 82.2ZM473.2 89.5L475.4 88.5L475.4 79.0L473.2 80.0ZM495.6 78.8L497.7 77.8L497.7 68.3L495.6 69.3ZM500.1 76.7L502.2 75.7L502.2 66.2L500.1 67.2ZM504.5 74.5L506.6 73.5L506.6 64.0L504.5 65.0ZM509.0 72.4L511.1 71.4L511.1 61.9L509.0 62.9ZM513.4 70.3L515.5 69.3L515.5 59.8L513.4 60.8Z"/></g><path d="M478.2 87.1 L478.2 77.1 Q479.8 74.6 481.4 75.6 L481.4 85.6" fill="#fff" stroke="#111" stroke-width="1.1"/>
  <!-- bracket -->
  <path d="M364.3 41.6 L364.3 149.7 C366 150 367.5 151 368 153.8 L368.3 156.9 L376.5 163.8 L376.5 155.7 C376.5 154 377 153.5 378 153.5 L381.8 153.5 L381.8 46.5 Z" fill="#f7f7f7"/>
  <path d="M364.3 149.7 C366 150 367.5 151 368 153.8 L368.3 156.9 L376.5 163.8 L376.5 155.7 C376.5 154 377 153.5 378 153.5 L381.8 153.5" fill="none" stroke="#2a2a2a" stroke-width="1.1" stroke-linejoin="round"/>
  <line x1="364.3" y1="41.6" x2="364.3" y2="150" style="stroke:var(--bl,#2a2a2a);stroke-width:var(--bw,1.2);stroke-dasharray:var(--bd,none)"/>
  <path d="M359.2 37 L367 30.9 L383.8 43 L383.6 46.2 C383 43.6 381.5 42.1 379.5 42.1 C377.2 42.1 375.6 43.5 375.7 45.4 C375.8 46.9 376.6 47.7 375.9 48.4 C375.1 49.1 374.2 48.9 373.6 48.5 L369.8 44.6 L368.4 41.3 L365.5 40.8 Z" fill="#f8f8f8" stroke="#1a1a1a" stroke-width="1" stroke-linejoin="round"/>
  <rect x="379.2" y="47.5" width="2.6" height="106" fill="#d8d8d8"/>
  <line x1="381.9" y1="46.4" x2="381.9" y2="154" stroke="#111" stroke-width="1.4"/>
  <line x1="379.3" y1="48" x2="379.3" y2="153.5" stroke="#555" stroke-width="0.6"/>
  <!-- connectors -->
  <g fill="none" stroke="#333" stroke-width="0.7">
    <path d="M369.5 60 L375.3 60.5 Q376.4 60.7 376.4 62 L376.4 80 Q376.3 81.3 375 81.3 L369.5 81.3"/>
    <path d="M369 89.5 L375.3 90 Q376.4 90.2 376.4 91.5 L376.4 131.5 Q376.3 132.8 375 132.8 L369 133"/>
  </g>
  <g fill="#555" stroke="#222" stroke-width="0.6">
    <circle cx="371.4" cy="57.3" r="1.6"/>
    <circle cx="371.6" cy="84" r="1.3"/>
    <circle cx="371" cy="87" r="1.2"/>
    <circle cx="371.2" cy="135.6" r="1.4"/>
  </g>
  <g fill="#1a1a1a"><polyline points="369.8,61.8 372.7,63.8 369.8,65.7 372.7,67.7 369.8,69.7 372.7,71.6 369.8,73.6 372.7,75.6 369.8,77.5 372.7,79.5" fill="none" stroke="#1a1a1a" stroke-width="1.5"/><circle cx="369.8" cy="61.8" r="1.35"/><circle cx="372.7" cy="63.8" r="1.35"/><circle cx="369.8" cy="65.7" r="1.35"/><circle cx="372.7" cy="67.7" r="1.35"/><circle cx="369.8" cy="69.7" r="1.35"/><circle cx="372.7" cy="71.6" r="1.35"/><circle cx="369.8" cy="73.6" r="1.35"/><circle cx="372.7" cy="75.6" r="1.35"/><circle cx="369.8" cy="77.5" r="1.35"/><circle cx="372.7" cy="79.5" r="1.35"/><polyline points="369.8,91.0 372.7,92.6 369.8,94.3 372.7,95.9 369.8,97.6 372.7,99.2 369.8,100.9 372.7,102.5 369.8,104.2 372.7,105.8 369.8,107.5 372.7,109.1 369.8,110.8 372.7,112.4 369.8,114.0 372.7,115.7 369.8,117.3 372.7,119.0 369.8,120.6 372.7,122.3 369.8,123.9 372.7,125.6 369.8,127.2 372.7,128.9 369.8,130.5" fill="none" stroke="#1a1a1a" stroke-width="1.5"/><circle cx="369.8" cy="91.0" r="1.35"/><circle cx="372.7" cy="92.6" r="1.35"/><circle cx="369.8" cy="94.3" r="1.35"/><circle cx="372.7" cy="95.9" r="1.35"/><circle cx="369.8" cy="97.6" r="1.35"/><circle cx="372.7" cy="99.2" r="1.35"/><circle cx="369.8" cy="100.9" r="1.35"/><circle cx="372.7" cy="102.5" r="1.35"/><circle cx="369.8" cy="104.2" r="1.35"/><circle cx="372.7" cy="105.8" r="1.35"/><circle cx="369.8" cy="107.5" r="1.35"/><circle cx="372.7" cy="109.1" r="1.35"/><circle cx="369.8" cy="110.8" r="1.35"/><circle cx="372.7" cy="112.4" r="1.35"/><circle cx="369.8" cy="114.0" r="1.35"/><circle cx="372.7" cy="115.7" r="1.35"/><circle cx="369.8" cy="117.3" r="1.35"/><circle cx="372.7" cy="119.0" r="1.35"/><circle cx="369.8" cy="120.6" r="1.35"/><circle cx="372.7" cy="122.3" r="1.35"/><circle cx="369.8" cy="123.9" r="1.35"/><circle cx="372.7" cy="125.6" r="1.35"/><circle cx="369.8" cy="127.2" r="1.35"/><circle cx="372.7" cy="128.9" r="1.35"/><circle cx="369.8" cy="130.5" r="1.35"/></g>
</g>

<g id="modem">
  <!-- base -->
  <path d="M211 275.5 L220.2 280.5 L295 292.8 L323.4 295.8 L336 289 L334 293 L323.4 298.5 L295 295.8 L220.2 283.5 L211.5 278.5 Z" fill="#7a7a7a"/>
  <ellipse cx="219.3" cy="282" rx="2.8" ry="1.8" fill="#4a4a4a"/>
  <ellipse cx="319.3" cy="297.8" rx="3.2" ry="1.9" fill="#4a4a4a"/>
  <!-- body -->
  <path d="M247.7 219.1 L347.7 232.6 Q352.5 233.8 353 237.9 L353.8 247.8 C353.3 251 352 255 350.7 258.4 L340.1 281.2 C338 286 335 290 332.5 291.8 C329.5 294.5 326.5 296 323.4 296.3 L295 293.3 L220.2 281.2 L211 276.6 C210.8 270 211.5 266 212.6 262.9 C213.5 258 215 254 217.1 250.8 C220 246 223 243 226.2 240.2 L239.9 225 C242 222.5 244.5 219.5 247.7 219.1 Z" fill="url(#gfront)"/>
  <!-- top surface -->
  <path d="M247.7 219.1 L347.7 232.6 Q352.5 233.8 353 237.9 L353.6 246.5 C345 249 338 252 328 253.8 C318 255.5 305 256.4 295 256.1 C286 255.8 278 255.4 273.3 254.6 C266 253 262 252.5 258.1 250.8 C253 248.5 249 246 246 243.2 C240 241 233 240.3 226.8 239.8 L239.9 225 C242 222.5 244.5 219.5 247.7 219.1 Z" fill="url(#gtop)"/>
  <!-- right side face -->
  <path d="M352.2 246.3 L353.8 247.8 C353.3 251 352 255 350.7 258.4 L340.1 281.2 C338 286 335 290 332.5 291.8 C329.5 294.5 326.5 296 323.4 296.3 L320.4 290.3 C321 282 322.5 274 324.9 269 C327 263 330 258 334 255.4 C340 251 346 248.5 352.2 246.3 Z" fill="url(#gside)"/>
  <path d="M247.7 219.1 L347.7 232.6 Q352.5 233.8 353 237.9 L353.8 247.8 C353.3 251 352 255 350.7 258.4 L340.1 281.2 C338 286 335 290 332.5 291.8 C329.5 294.5 326.5 296 323.4 296.3 L295 293.3 L220.2 281.2 L211 276.6 C210.8 270 211.5 266 212.6 262.9 C213.5 258 215 254 217.1 250.8 C220 246 223 243 226.2 240.2 L239.9 225 C242 222.5 244.5 219.5 247.7 219.1 Z" fill="url(#dots)"/>
  <path d="M247.7 219.1 L347.7 232.6 Q352.5 233.8 353 237.9 L353.8 247.8 C353.3 251 352 255 350.7 258.4 L340.1 281.2 C338 286 335 290 332.5 291.8 C329.5 294.5 326.5 296 323.4 296.3 L295 293.3 L220.2 281.2 L211 276.6 C210.8 270 211.5 266 212.6 262.9 C213.5 258 215 254 217.1 250.8 C220 246 223 243 226.2 240.2 L239.9 225 C242 222.5 244.5 219.5 247.7 219.1 Z" fill="none" stroke="#555" stroke-width="0.8"/>
  <path d="M245 244 C249.5 247 253 248.8 258.1 250.8 C262 252.5 266 253 273.3 254.6 C278 255.4 286 255.8 295 256.1 C305 256.4 318 255.5 328 253.8 C338 252 345 249 352.2 246.3" stroke="url(#ggroove)" stroke-width="1.2" fill="none"/>
  <path d="M320.4 290.3 C321 282 322.5 274 324.9 269 C327 263 330 258 334 255.4 C340 251 346 248.5 352.2 246.3" stroke="#8a8a8a" stroke-width="0.8" fill="none"/>
  <path d="M348.3 250.2 L351.2 250.6 L347.2 263.6 L344.4 263.2 Z" fill="#1e1e1e"/>
  <!-- display panel -->
  <path d="M230.5 259.2 Q270 267.5 310 272.3 Q312 272.6 311.9 274.5 L311.5 284 Q311.3 286 309.5 285.6 Q268 283.3 228.5 272.5 Q226.7 272 226.9 270 L227.5 261.5 Q228 259 230.5 259.2 Z" fill="#626262" stroke="#222" stroke-width="1"/>
  <path d="M230.5 259.2 Q270 267.5 310 272.3 Q312 272.6 311.9 274.5 L311.5 284 Q311.3 286 309.5 285.6 Q268 283.3 228.5 272.5 Q226.7 272 226.9 270 L227.5 261.5 Q228 259 230.5 259.2 Z" fill="url(#dots)"/>
  <g fill="#d6d6d6"><ellipse cx="237.0" cy="264.4" rx="1.5" ry="1.2"/><ellipse cx="244.0" cy="265.7" rx="1.5" ry="1.2"/><ellipse cx="251.0" cy="267.0" rx="1.5" ry="1.2"/><ellipse cx="258.0" cy="268.2" rx="1.5" ry="1.2"/><ellipse cx="265.0" cy="269.4" rx="1.5" ry="1.2"/><ellipse cx="272.0" cy="270.5" rx="1.5" ry="1.2"/><ellipse cx="279.0" cy="271.6" rx="1.5" ry="1.2"/><ellipse cx="286.0" cy="272.7" rx="1.5" ry="1.2"/><ellipse cx="293.0" cy="273.7" rx="1.5" ry="1.2"/><ellipse cx="300.0" cy="274.6" rx="1.5" ry="1.2"/></g>
</g>
</defs>

<use href="#card"/>
<use href="#card" transform="translate(73,168)" style="--bl:#8a8a8a;--bw:1;--bd:2 1.5"/>
<use href="#card" transform="translate(125,356.8)" style="--bl:#8a8a8a;--bw:1;--bd:2 1.5"/>

<use href="#modem"/>
<use href="#modem" transform="translate(-165,196)"/>
<use href="#modem" transform="translate(77,197)"/>

<!-- top section lines -->
<g stroke="#5a5a5a" stroke-width="1.1" fill="none">
  <line x1="280" y1="74" x2="364.3" y2="74" stroke="#555"/>
  <line x1="275.3" y1="74" x2="275.3" y2="121" stroke="#333"/>
  <line x1="275.3" y1="127.2" x2="357" y2="127.2" stroke="#777" stroke-dasharray="3 1"/>
</g>
<g fill="#111">
  <path d="M276 74 L283.5 70.5 L283.5 77.5 Z"/>
  <path d="M275.3 127.5 L271.5 119.5 L279.3 119.5 Z"/>
  <path d="M364.5 127.1 L356.5 123.3 L356.5 130.9 Z"/>
</g>
<text x="332" y="69.8">TxD</text>
<text x="331" y="123.7">RxD</text>

<!-- middle section lines -->
<g stroke="#666" stroke-width="1" fill="none">
  <polyline stroke="#6a6a6a" points="226.5,240.5 157,240.5 157,276 204,276"/>
  <line x1="361" y1="244.6" x2="437.8" y2="244.6" stroke="#9a9a9a" stroke-dasharray="3 1.2"/>
  <line x1="334" y1="291" x2="430" y2="291" stroke="#a0a0a0" stroke-dasharray="3 1.2"/>
</g>
<g fill="#111">
  <path d="M211.2 276 L203.5 272.1 L203.5 279.7 Z"/>
  <path d="M353.5 244.6 L361.5 240.8 L361.5 248.4 Z"/>
  <path d="M437.8 291 L429.8 287.2 L429.8 294.8 Z"/>
</g>
<text x="412.5" y="242.1">TxD</text>
<text x="404.5" y="287.7">RxD</text>

<!-- bottom section lines -->
<g stroke="#666" stroke-width="1" fill="none">
  <polyline points="76,419.5 5.6,419.5 5.6,472.8 38,472.8"/>
  <line x1="189" y1="460.8" x2="289" y2="460.8" stroke="#999" stroke-width="1.3" stroke-dasharray="4 1.5"/>
  <line x1="176" y1="475.1" x2="282" y2="475.1" stroke="#777"/>
  <line x1="438" y1="436.8" x2="490" y2="436.8" stroke="#aaa" stroke-width="1.2" stroke-dasharray="3 1.5"/>
  <line x1="411" y1="483.8" x2="483" y2="483.8" stroke="#555"/>
</g>
<g fill="#111">
  <path d="M45 472.8 L37 469 L37 476.6 Z"/>
  <path d="M181 460.8 L189.3 457.2 L189.3 464.5 Z"/>
  <path d="M289.6 475.1 L281.2 471.4 L281.2 478.8 Z"/>
  <path d="M430.6 436.8 L438.4 433 L438.4 440.6 Z"/>
  <path d="M490 483.8 L482.3 480 L482.3 487.6 Z"/>
</g>
<text x="465.3" y="434.5">TxD</text>
<text x="457.3" y="481.2">RxD</text>

<!-- poles -->
<g stroke="#1e1e1e" fill="none" stroke-linecap="round">
  <line x1="234" y1="377" x2="234" y2="443" stroke-width="2"/>
  <line x1="221.8" y1="380.9" x2="246.1" y2="383.4" stroke-width="2.2"/>
  <line x1="221.8" y1="391.2" x2="244.6" y2="393.5" stroke-width="2.2"/>
  <line x1="283.6" y1="377" x2="283.6" y2="443" stroke-width="2"/>
  <line x1="271.9" y1="380.9" x2="294.7" y2="383.4" stroke-width="2.2"/>
  <line x1="272.7" y1="391.2" x2="293.9" y2="393.5" stroke-width="2.2"/>
  <path d="M221 443 L242 443 M226 443 L229 440 M238 443 L240 440 M263.6 443 L268 443 M274 443 L290 443 M279 443 L281 440 M287 443 L289 440.5" stroke-width="1" stroke="#444"/>
  <path d="M185 430.6 C200 427 212 421 217 414 C221 408 224 400 223.3 392" stroke-width="1.3"/>
  <path d="M243.1 393 C247 397 250 400 256 401 C262 401.5 268 398 273.4 391.2" stroke-width="1.3"/>
  <path d="M293.2 392.8 C293.5 400 295 410 298.5 415.5 C301 420 305 424 312.4 425.6" stroke-width="1.3"/>
</g>
<g fill="#1e1e1e">
  <circle cx="223.3" cy="391.5" r="1.6"/><circle cx="243.1" cy="393" r="1.6"/>
  <circle cx="273.4" cy="391.3" r="1.6"/><circle cx="293.2" cy="393" r="1.6"/>
</g>
</svg>
</body></html>
